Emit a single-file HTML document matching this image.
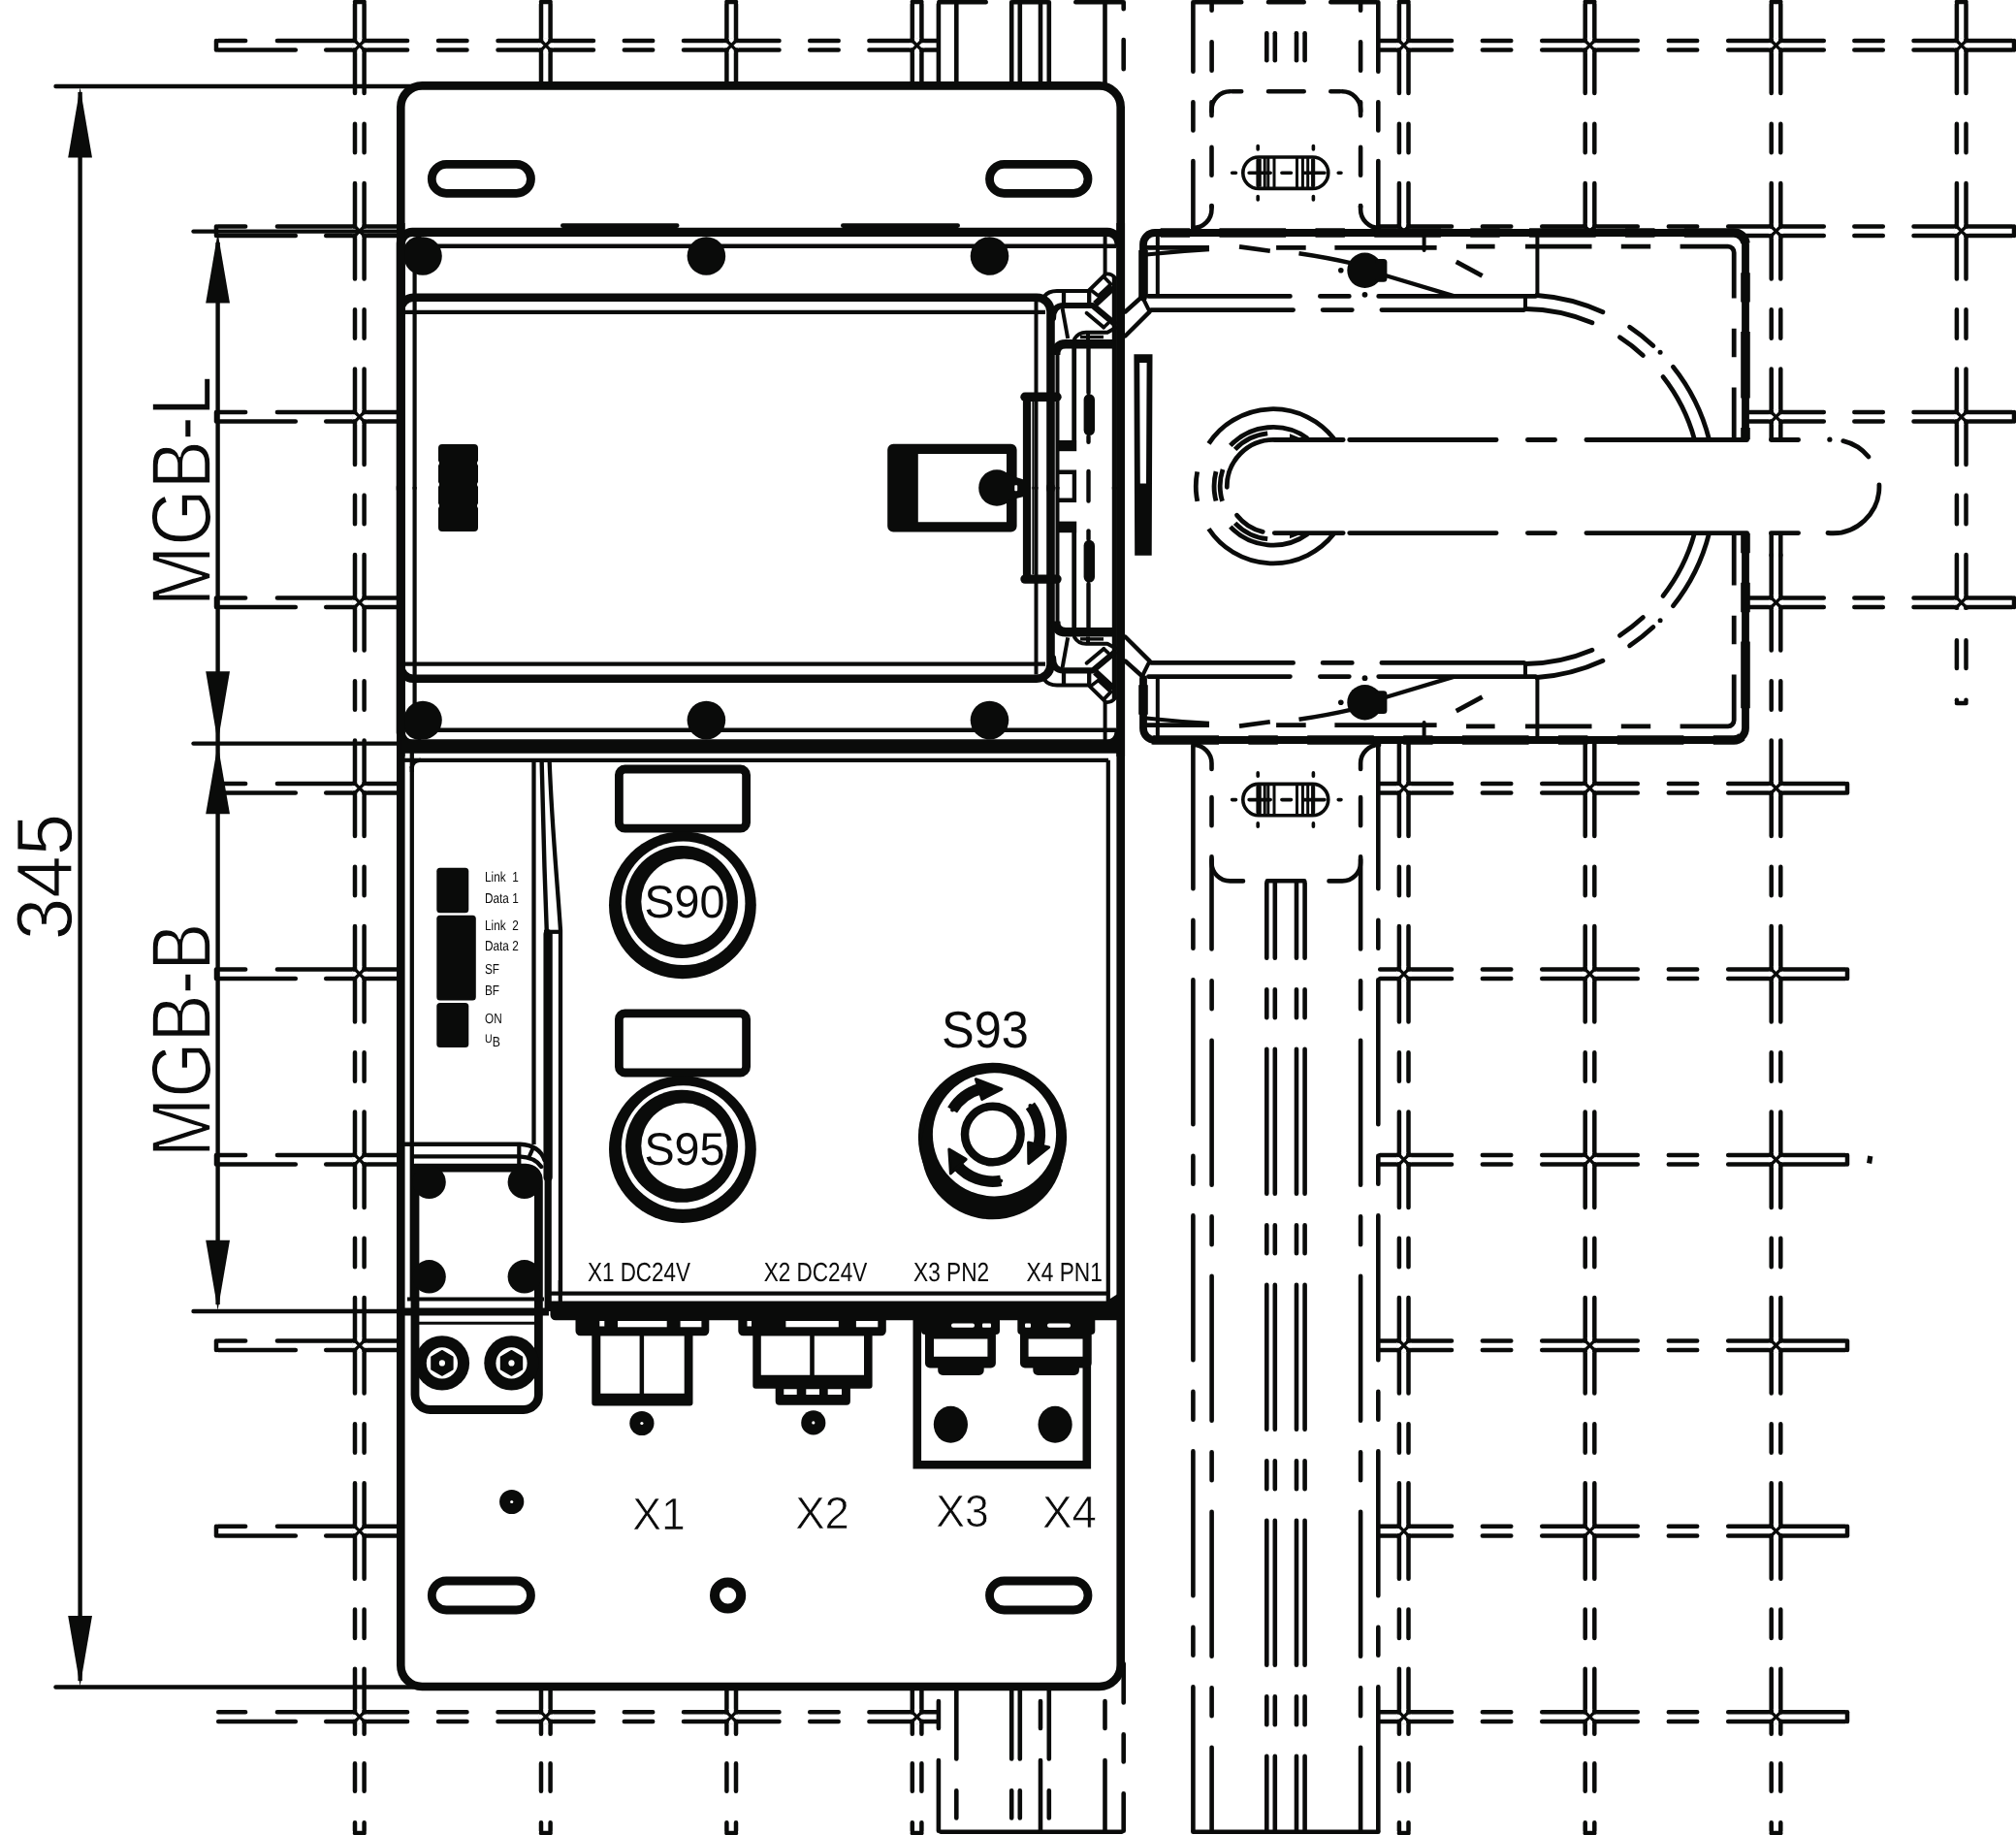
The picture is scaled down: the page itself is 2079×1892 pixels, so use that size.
<!DOCTYPE html>
<html><head><meta charset="utf-8"><title>MGB drawing</title>
<style>
html,body{margin:0;padding:0;background:#fff;}
body{width:2079px;height:1892px;overflow:hidden;font-family:"Liberation Sans",sans-serif;}
svg{display:block}
svg text{font-family:"Liberation Sans",sans-serif;text-rendering:geometricPrecision;filter:grayscale(1);}
</style></head><body>
<svg width="2079" height="1892" viewBox="0 0 2079 1892" stroke="#0a0b0a" fill="none">
<rect x="0" y="0" width="2079" height="1892" fill="#fff" stroke="none"/>
<path d="M225.2 42.0H253.1M285.9 42.0H420.1M452.0 42.0H481.5M513.5 42.0H612.0M643.8 42.0H673.2M705.0 42.0H803.5M835.2 42.0H864.7M896.4 42.0H965.8" stroke-width="4.5" fill="none" stroke-linecap="round" stroke-linejoin="round" />
<path d="M225.2 51.6H304.8M336.2 51.6H420.1M452.0 51.6H481.5M513.5 51.6H612.0M643.8 51.6H673.2M705.0 51.6H803.5M835.2 51.6H864.7M896.4 51.6H965.8" stroke-width="4.5" fill="none" stroke-linecap="round" stroke-linejoin="round" />
<line x1="223.0" y1="42.0" x2="223.0" y2="51.6" stroke-width="4.5" stroke-linecap="round" />
<path d="M225.2 233.5H253.1M285.9 233.5H409.8" stroke-width="4.5" fill="none" stroke-linecap="round" stroke-linejoin="round" />
<path d="M225.2 243.1H304.8M336.2 243.1H409.8" stroke-width="4.5" fill="none" stroke-linecap="round" stroke-linejoin="round" />
<line x1="223.0" y1="233.5" x2="223.0" y2="243.1" stroke-width="4.5" stroke-linecap="round" />
<path d="M225.2 425.0H253.1M285.9 425.0H409.8" stroke-width="4.5" fill="none" stroke-linecap="round" stroke-linejoin="round" />
<path d="M225.2 434.6H304.8M336.2 434.6H409.8" stroke-width="4.5" fill="none" stroke-linecap="round" stroke-linejoin="round" />
<line x1="223.0" y1="425.0" x2="223.0" y2="434.6" stroke-width="4.5" stroke-linecap="round" />
<path d="M225.2 616.4H253.1M285.9 616.4H409.8" stroke-width="4.5" fill="none" stroke-linecap="round" stroke-linejoin="round" />
<path d="M225.2 626.0H304.8M336.2 626.0H409.8" stroke-width="4.5" fill="none" stroke-linecap="round" stroke-linejoin="round" />
<line x1="223.0" y1="616.4" x2="223.0" y2="626.0" stroke-width="4.5" stroke-linecap="round" />
<path d="M225.2 807.9H253.1M285.9 807.9H409.8" stroke-width="4.5" fill="none" stroke-linecap="round" stroke-linejoin="round" />
<path d="M225.2 817.5H304.8M336.2 817.5H409.8" stroke-width="4.5" fill="none" stroke-linecap="round" stroke-linejoin="round" />
<line x1="223.0" y1="807.9" x2="223.0" y2="817.5" stroke-width="4.5" stroke-linecap="round" />
<path d="M225.2 999.4H253.1M285.9 999.4H409.8" stroke-width="4.5" fill="none" stroke-linecap="round" stroke-linejoin="round" />
<path d="M225.2 1009.0H304.8M336.2 1009.0H409.8" stroke-width="4.5" fill="none" stroke-linecap="round" stroke-linejoin="round" />
<line x1="223.0" y1="999.4" x2="223.0" y2="1009.0" stroke-width="4.5" stroke-linecap="round" />
<path d="M225.2 1190.9H253.1M285.9 1190.9H409.8" stroke-width="4.5" fill="none" stroke-linecap="round" stroke-linejoin="round" />
<path d="M225.2 1200.5H304.8M336.2 1200.5H409.8" stroke-width="4.5" fill="none" stroke-linecap="round" stroke-linejoin="round" />
<line x1="223.0" y1="1190.9" x2="223.0" y2="1200.5" stroke-width="4.5" stroke-linecap="round" />
<path d="M225.2 1382.4H253.1M285.9 1382.4H409.8" stroke-width="4.5" fill="none" stroke-linecap="round" stroke-linejoin="round" />
<path d="M225.2 1392.0H304.8M336.2 1392.0H409.8" stroke-width="4.5" fill="none" stroke-linecap="round" stroke-linejoin="round" />
<line x1="223.0" y1="1382.4" x2="223.0" y2="1392.0" stroke-width="4.5" stroke-linecap="round" />
<path d="M225.2 1573.8H253.1M285.9 1573.8H409.8" stroke-width="4.5" fill="none" stroke-linecap="round" stroke-linejoin="round" />
<path d="M225.2 1583.4H304.8M336.2 1583.4H409.8" stroke-width="4.5" fill="none" stroke-linecap="round" stroke-linejoin="round" />
<line x1="223.0" y1="1573.8" x2="223.0" y2="1583.4" stroke-width="4.5" stroke-linecap="round" />
<path d="M225.2 1765.3H253.1M285.9 1765.3H420.1M452.0 1765.3H481.5M513.5 1765.3H612.0M643.8 1765.3H673.2M705.0 1765.3H803.5M835.2 1765.3H864.7M896.4 1765.3H965.8" stroke-width="4.5" fill="none" stroke-linecap="round" stroke-linejoin="round" />
<path d="M225.2 1774.9H304.8M336.2 1774.9H420.1M452.0 1774.9H481.5M513.5 1774.9H612.0M643.8 1774.9H673.2M705.0 1774.9H803.5M835.2 1774.9H864.7M896.4 1774.9H965.8" stroke-width="4.5" fill="none" stroke-linecap="round" stroke-linejoin="round" />
<path d="M366.0 4.2V96.0M366.0 127.8V157.3M366.0 189.1V287.6M366.0 319.3V348.8M366.0 380.6V479.1M366.0 510.8V540.2M366.0 572.0V670.5M366.0 702.2V731.7M366.0 763.5V862.0M366.0 893.7V923.2M366.0 955.0V1053.5M366.0 1085.2V1114.7M366.0 1146.5V1245.0M366.0 1276.7V1306.2M366.0 1338.0V1436.5M366.0 1468.2V1497.7M366.0 1529.3V1627.8M366.0 1659.6V1689.1M366.0 1720.8V1787.8M366.0 1818.2V1846.8M366.0 1879.2V1887.8" stroke-width="4.5" fill="none" stroke-linecap="round" stroke-linejoin="round" />
<path d="M375.6 4.2V96.0M375.6 127.8V157.3M375.6 189.1V287.6M375.6 319.3V348.8M375.6 380.6V479.1M375.6 510.8V540.2M375.6 572.0V670.5M375.6 702.2V731.7M375.6 763.5V862.0M375.6 893.7V923.2M375.6 955.0V1053.5M375.6 1085.2V1114.7M375.6 1146.5V1245.0M375.6 1276.7V1306.2M375.6 1338.0V1436.5M375.6 1468.2V1497.7M375.6 1529.3V1627.8M375.6 1659.6V1689.1M375.6 1720.8V1787.8M375.6 1818.2V1846.8M375.6 1879.2V1887.8" stroke-width="4.5" fill="none" stroke-linecap="round" stroke-linejoin="round" />
<line x1="366.0" y1="2.0" x2="375.6" y2="2.0" stroke-width="4.5" stroke-linecap="round" />
<line x1="366.0" y1="1890.0" x2="375.6" y2="1890.0" stroke-width="4.5" stroke-linecap="round" />
<path d="M558.0 4.2V96.0M558.0 127.8V157.3M558.0 189.1V287.6M558.0 319.3V348.8M558.0 380.6V479.1M558.0 510.8V540.2M558.0 572.0V670.5M558.0 702.2V731.7M558.0 763.5V862.0M558.0 893.7V923.2M558.0 955.0V1053.5M558.0 1085.2V1114.7M558.0 1146.5V1245.0M558.0 1276.7V1306.2M558.0 1338.0V1436.5M558.0 1468.2V1497.7M558.0 1529.3V1627.8M558.0 1659.6V1689.1M558.0 1720.8V1787.8M558.0 1818.2V1846.8M558.0 1879.2V1887.8" stroke-width="4.5" fill="none" stroke-linecap="round" stroke-linejoin="round" />
<path d="M567.6 4.2V96.0M567.6 127.8V157.3M567.6 189.1V287.6M567.6 319.3V348.8M567.6 380.6V479.1M567.6 510.8V540.2M567.6 572.0V670.5M567.6 702.2V731.7M567.6 763.5V862.0M567.6 893.7V923.2M567.6 955.0V1053.5M567.6 1085.2V1114.7M567.6 1146.5V1245.0M567.6 1276.7V1306.2M567.6 1338.0V1436.5M567.6 1468.2V1497.7M567.6 1529.3V1627.8M567.6 1659.6V1689.1M567.6 1720.8V1787.8M567.6 1818.2V1846.8M567.6 1879.2V1887.8" stroke-width="4.5" fill="none" stroke-linecap="round" stroke-linejoin="round" />
<line x1="558.0" y1="2.0" x2="567.6" y2="2.0" stroke-width="4.5" stroke-linecap="round" />
<line x1="558.0" y1="1890.0" x2="567.6" y2="1890.0" stroke-width="4.5" stroke-linecap="round" />
<path d="M749.4 4.2V96.0M749.4 127.8V157.3M749.4 189.1V287.6M749.4 319.3V348.8M749.4 380.6V479.1M749.4 510.8V540.2M749.4 572.0V670.5M749.4 702.2V731.7M749.4 763.5V862.0M749.4 893.7V923.2M749.4 955.0V1053.5M749.4 1085.2V1114.7M749.4 1146.5V1245.0M749.4 1276.7V1306.2M749.4 1338.0V1436.5M749.4 1468.2V1497.7M749.4 1529.3V1627.8M749.4 1659.6V1689.1M749.4 1720.8V1787.8M749.4 1818.2V1846.8M749.4 1879.2V1887.8" stroke-width="4.5" fill="none" stroke-linecap="round" stroke-linejoin="round" />
<path d="M759.0 4.2V96.0M759.0 127.8V157.3M759.0 189.1V287.6M759.0 319.3V348.8M759.0 380.6V479.1M759.0 510.8V540.2M759.0 572.0V670.5M759.0 702.2V731.7M759.0 763.5V862.0M759.0 893.7V923.2M759.0 955.0V1053.5M759.0 1085.2V1114.7M759.0 1146.5V1245.0M759.0 1276.7V1306.2M759.0 1338.0V1436.5M759.0 1468.2V1497.7M759.0 1529.3V1627.8M759.0 1659.6V1689.1M759.0 1720.8V1787.8M759.0 1818.2V1846.8M759.0 1879.2V1887.8" stroke-width="4.5" fill="none" stroke-linecap="round" stroke-linejoin="round" />
<line x1="749.4" y1="2.0" x2="759.0" y2="2.0" stroke-width="4.5" stroke-linecap="round" />
<line x1="749.4" y1="1890.0" x2="759.0" y2="1890.0" stroke-width="4.5" stroke-linecap="round" />
<path d="M940.8 4.2V96.0M940.8 127.8V157.3M940.8 189.1V287.6M940.8 319.3V348.8M940.8 380.6V479.1M940.8 510.8V540.2M940.8 572.0V670.5M940.8 702.2V731.7M940.8 763.5V862.0M940.8 893.7V923.2M940.8 955.0V1053.5M940.8 1085.2V1114.7M940.8 1146.5V1245.0M940.8 1276.7V1306.2M940.8 1338.0V1436.5M940.8 1468.2V1497.7M940.8 1529.3V1627.8M940.8 1659.6V1689.1M940.8 1720.8V1787.8M940.8 1818.2V1846.8M940.8 1879.2V1887.8" stroke-width="4.5" fill="none" stroke-linecap="round" stroke-linejoin="round" />
<path d="M950.4 4.2V96.0M950.4 127.8V157.3M950.4 189.1V287.6M950.4 319.3V348.8M950.4 380.6V479.1M950.4 510.8V540.2M950.4 572.0V670.5M950.4 702.2V731.7M950.4 763.5V862.0M950.4 893.7V923.2M950.4 955.0V1053.5M950.4 1085.2V1114.7M950.4 1146.5V1245.0M950.4 1276.7V1306.2M950.4 1338.0V1436.5M950.4 1468.2V1497.7M950.4 1529.3V1627.8M950.4 1659.6V1689.1M950.4 1720.8V1787.8M950.4 1818.2V1846.8M950.4 1879.2V1887.8" stroke-width="4.5" fill="none" stroke-linecap="round" stroke-linejoin="round" />
<line x1="940.8" y1="2.0" x2="950.4" y2="2.0" stroke-width="4.5" stroke-linecap="round" />
<line x1="940.8" y1="1890.0" x2="950.4" y2="1890.0" stroke-width="4.5" stroke-linecap="round" />
<path d="M1423.2 42.0H1497.0M1528.8 42.0H1558.3M1590.2 42.0H1688.8M1720.8 42.0H1750.2M1782.2 42.0H1880.8M1912.3 42.0H1941.8M1973.5 42.0H2074.8" stroke-width="4.5" fill="none" stroke-linecap="round" stroke-linejoin="round" />
<path d="M1423.2 51.6H1497.0M1528.8 51.6H1558.3M1590.2 51.6H1688.8M1720.8 51.6H1750.2M1782.2 51.6H1880.8M1912.3 51.6H1941.8M1973.5 51.6H2074.8" stroke-width="4.5" fill="none" stroke-linecap="round" stroke-linejoin="round" />
<line x1="2077.0" y1="42.0" x2="2077.0" y2="51.6" stroke-width="4.5" stroke-linecap="round" />
<path d="M1423.2 233.5H1497.0M1528.8 233.5H1558.3M1590.2 233.5H1688.8M1720.8 233.5H1750.2M1782.2 233.5H1880.8M1912.3 233.5H1941.8M1973.5 233.5H2074.8" stroke-width="4.5" fill="none" stroke-linecap="round" stroke-linejoin="round" />
<path d="M1423.2 243.1H1497.0M1528.8 243.1H1558.3M1590.2 243.1H1688.8M1720.8 243.1H1750.2M1782.2 243.1H1880.8M1912.3 243.1H1941.8M1973.5 243.1H2074.8" stroke-width="4.5" fill="none" stroke-linecap="round" stroke-linejoin="round" />
<line x1="2077.0" y1="233.5" x2="2077.0" y2="243.1" stroke-width="4.5" stroke-linecap="round" />
<path d="M1423.2 425.0H1497.0M1528.8 425.0H1558.3M1590.2 425.0H1688.8M1720.8 425.0H1750.2M1782.2 425.0H1880.8M1912.3 425.0H1941.8M1973.5 425.0H2074.8" stroke-width="4.5" fill="none" stroke-linecap="round" stroke-linejoin="round" />
<path d="M1423.2 434.6H1497.0M1528.8 434.6H1558.3M1590.2 434.6H1688.8M1720.8 434.6H1750.2M1782.2 434.6H1880.8M1912.3 434.6H1941.8M1973.5 434.6H2074.8" stroke-width="4.5" fill="none" stroke-linecap="round" stroke-linejoin="round" />
<line x1="2077.0" y1="425.0" x2="2077.0" y2="434.6" stroke-width="4.5" stroke-linecap="round" />
<path d="M1423.2 616.4H1497.0M1528.8 616.4H1558.3M1590.2 616.4H1688.8M1720.8 616.4H1750.2M1782.2 616.4H1880.8M1912.3 616.4H1941.8M1973.5 616.4H2074.8" stroke-width="4.5" fill="none" stroke-linecap="round" stroke-linejoin="round" />
<path d="M1423.2 626.0H1497.0M1528.8 626.0H1558.3M1590.2 626.0H1688.8M1720.8 626.0H1750.2M1782.2 626.0H1880.8M1912.3 626.0H1941.8M1973.5 626.0H2074.8" stroke-width="4.5" fill="none" stroke-linecap="round" stroke-linejoin="round" />
<line x1="2077.0" y1="616.4" x2="2077.0" y2="626.0" stroke-width="4.5" stroke-linecap="round" />
<path d="M1423.2 807.9H1497.0M1528.8 807.9H1558.3M1590.2 807.9H1688.8M1720.8 807.9H1750.2M1782.2 807.9H1902.8" stroke-width="4.5" fill="none" stroke-linecap="round" stroke-linejoin="round" />
<path d="M1423.2 817.5H1497.0M1528.8 817.5H1558.3M1590.2 817.5H1688.8M1720.8 817.5H1750.2M1782.2 817.5H1902.8" stroke-width="4.5" fill="none" stroke-linecap="round" stroke-linejoin="round" />
<line x1="1905.0" y1="807.9" x2="1905.0" y2="817.5" stroke-width="4.5" stroke-linecap="round" />
<path d="M1423.2 999.4H1497.0M1528.8 999.4H1558.3M1590.2 999.4H1688.8M1720.8 999.4H1750.2M1782.2 999.4H1902.8" stroke-width="4.5" fill="none" stroke-linecap="round" stroke-linejoin="round" />
<path d="M1423.2 1009.0H1497.0M1528.8 1009.0H1558.3M1590.2 1009.0H1688.8M1720.8 1009.0H1750.2M1782.2 1009.0H1902.8" stroke-width="4.5" fill="none" stroke-linecap="round" stroke-linejoin="round" />
<line x1="1905.0" y1="999.4" x2="1905.0" y2="1009.0" stroke-width="4.5" stroke-linecap="round" />
<path d="M1423.2 1190.9H1497.0M1528.8 1190.9H1558.3M1590.2 1190.9H1688.8M1720.8 1190.9H1750.2M1782.2 1190.9H1902.8" stroke-width="4.5" fill="none" stroke-linecap="round" stroke-linejoin="round" />
<path d="M1423.2 1200.5H1497.0M1528.8 1200.5H1558.3M1590.2 1200.5H1688.8M1720.8 1200.5H1750.2M1782.2 1200.5H1902.8" stroke-width="4.5" fill="none" stroke-linecap="round" stroke-linejoin="round" />
<line x1="1905.0" y1="1190.9" x2="1905.0" y2="1200.5" stroke-width="4.5" stroke-linecap="round" />
<path d="M1423.2 1382.4H1497.0M1528.8 1382.4H1558.3M1590.2 1382.4H1688.8M1720.8 1382.4H1750.2M1782.2 1382.4H1902.8" stroke-width="4.5" fill="none" stroke-linecap="round" stroke-linejoin="round" />
<path d="M1423.2 1392.0H1497.0M1528.8 1392.0H1558.3M1590.2 1392.0H1688.8M1720.8 1392.0H1750.2M1782.2 1392.0H1902.8" stroke-width="4.5" fill="none" stroke-linecap="round" stroke-linejoin="round" />
<line x1="1905.0" y1="1382.4" x2="1905.0" y2="1392.0" stroke-width="4.5" stroke-linecap="round" />
<path d="M1423.2 1573.8H1497.0M1528.8 1573.8H1558.3M1590.2 1573.8H1688.8M1720.8 1573.8H1750.2M1782.2 1573.8H1902.8" stroke-width="4.5" fill="none" stroke-linecap="round" stroke-linejoin="round" />
<path d="M1423.2 1583.4H1497.0M1528.8 1583.4H1558.3M1590.2 1583.4H1688.8M1720.8 1583.4H1750.2M1782.2 1583.4H1902.8" stroke-width="4.5" fill="none" stroke-linecap="round" stroke-linejoin="round" />
<line x1="1905.0" y1="1573.8" x2="1905.0" y2="1583.4" stroke-width="4.5" stroke-linecap="round" />
<path d="M1423.2 1765.3H1497.0M1528.8 1765.3H1558.3M1590.2 1765.3H1688.8M1720.8 1765.3H1750.2M1782.2 1765.3H1902.8" stroke-width="4.5" fill="none" stroke-linecap="round" stroke-linejoin="round" />
<path d="M1423.2 1774.9H1497.0M1528.8 1774.9H1558.3M1590.2 1774.9H1688.8M1720.8 1774.9H1750.2M1782.2 1774.9H1902.8" stroke-width="4.5" fill="none" stroke-linecap="round" stroke-linejoin="round" />
<line x1="1905.0" y1="1765.3" x2="1905.0" y2="1774.9" stroke-width="4.5" stroke-linecap="round" />
<path d="M1442.9 4.2V96.0M1442.9 127.8V157.3M1442.9 189.1V287.6M1442.9 319.3V348.8M1442.9 380.6V479.1M1442.9 510.8V540.2M1442.9 572.0V670.5M1442.9 702.2V731.7M1442.9 763.5V862.0M1442.9 893.7V923.2M1442.9 955.0V1053.5M1442.9 1085.2V1114.7M1442.9 1146.5V1245.0M1442.9 1276.7V1306.2M1442.9 1338.0V1436.5M1442.9 1468.2V1497.7M1442.9 1529.3V1627.8M1442.9 1659.6V1689.1M1442.9 1720.8V1787.8M1442.9 1818.2V1846.8M1442.9 1879.2V1887.8" stroke-width="4.5" fill="none" stroke-linecap="round" stroke-linejoin="round" />
<path d="M1452.5 4.2V96.0M1452.5 127.8V157.3M1452.5 189.1V287.6M1452.5 319.3V348.8M1452.5 380.6V479.1M1452.5 510.8V540.2M1452.5 572.0V670.5M1452.5 702.2V731.7M1452.5 763.5V862.0M1452.5 893.7V923.2M1452.5 955.0V1053.5M1452.5 1085.2V1114.7M1452.5 1146.5V1245.0M1452.5 1276.7V1306.2M1452.5 1338.0V1436.5M1452.5 1468.2V1497.7M1452.5 1529.3V1627.8M1452.5 1659.6V1689.1M1452.5 1720.8V1787.8M1452.5 1818.2V1846.8M1452.5 1879.2V1887.8" stroke-width="4.5" fill="none" stroke-linecap="round" stroke-linejoin="round" />
<line x1="1442.9" y1="2.0" x2="1452.5" y2="2.0" stroke-width="4.5" stroke-linecap="round" />
<line x1="1442.9" y1="1890.0" x2="1452.5" y2="1890.0" stroke-width="4.5" stroke-linecap="round" />
<path d="M1634.7 4.2V96.0M1634.7 127.8V157.3M1634.7 189.1V287.6M1634.7 319.3V348.8M1634.7 380.6V479.1M1634.7 510.8V540.2M1634.7 572.0V670.5M1634.7 702.2V731.7M1634.7 763.5V862.0M1634.7 893.7V923.2M1634.7 955.0V1053.5M1634.7 1085.2V1114.7M1634.7 1146.5V1245.0M1634.7 1276.7V1306.2M1634.7 1338.0V1436.5M1634.7 1468.2V1497.7M1634.7 1529.3V1627.8M1634.7 1659.6V1689.1M1634.7 1720.8V1787.8M1634.7 1818.2V1846.8M1634.7 1879.2V1887.8" stroke-width="4.5" fill="none" stroke-linecap="round" stroke-linejoin="round" />
<path d="M1644.3 4.2V96.0M1644.3 127.8V157.3M1644.3 189.1V287.6M1644.3 319.3V348.8M1644.3 380.6V479.1M1644.3 510.8V540.2M1644.3 572.0V670.5M1644.3 702.2V731.7M1644.3 763.5V862.0M1644.3 893.7V923.2M1644.3 955.0V1053.5M1644.3 1085.2V1114.7M1644.3 1146.5V1245.0M1644.3 1276.7V1306.2M1644.3 1338.0V1436.5M1644.3 1468.2V1497.7M1644.3 1529.3V1627.8M1644.3 1659.6V1689.1M1644.3 1720.8V1787.8M1644.3 1818.2V1846.8M1644.3 1879.2V1887.8" stroke-width="4.5" fill="none" stroke-linecap="round" stroke-linejoin="round" />
<line x1="1634.7" y1="2.0" x2="1644.3" y2="2.0" stroke-width="4.5" stroke-linecap="round" />
<line x1="1634.7" y1="1890.0" x2="1644.3" y2="1890.0" stroke-width="4.5" stroke-linecap="round" />
<path d="M1826.7 4.2V96.0M1826.7 127.8V157.3M1826.7 189.1V287.6M1826.7 319.3V348.8M1826.7 380.6V479.1M1826.7 510.8V540.2M1826.7 572.0V670.5M1826.7 702.2V731.7M1826.7 763.5V862.0M1826.7 893.7V923.2M1826.7 955.0V1053.5M1826.7 1085.2V1114.7M1826.7 1146.5V1245.0M1826.7 1276.7V1306.2M1826.7 1338.0V1436.5M1826.7 1468.2V1497.7M1826.7 1529.3V1627.8M1826.7 1659.6V1689.1M1826.7 1720.8V1787.8M1826.7 1818.2V1846.8M1826.7 1879.2V1887.8" stroke-width="4.5" fill="none" stroke-linecap="round" stroke-linejoin="round" />
<path d="M1836.3 4.2V96.0M1836.3 127.8V157.3M1836.3 189.1V287.6M1836.3 319.3V348.8M1836.3 380.6V479.1M1836.3 510.8V540.2M1836.3 572.0V670.5M1836.3 702.2V731.7M1836.3 763.5V862.0M1836.3 893.7V923.2M1836.3 955.0V1053.5M1836.3 1085.2V1114.7M1836.3 1146.5V1245.0M1836.3 1276.7V1306.2M1836.3 1338.0V1436.5M1836.3 1468.2V1497.7M1836.3 1529.3V1627.8M1836.3 1659.6V1689.1M1836.3 1720.8V1787.8M1836.3 1818.2V1846.8M1836.3 1879.2V1887.8" stroke-width="4.5" fill="none" stroke-linecap="round" stroke-linejoin="round" />
<line x1="1826.7" y1="2.0" x2="1836.3" y2="2.0" stroke-width="4.5" stroke-linecap="round" />
<line x1="1826.7" y1="1890.0" x2="1836.3" y2="1890.0" stroke-width="4.5" stroke-linecap="round" />
<path d="M1826.7 550.2V572.8" stroke-width="4.5" fill="none" stroke-linecap="round" stroke-linejoin="round" />
<path d="M1836.3 550.2V572.8" stroke-width="4.5" fill="none" stroke-linecap="round" stroke-linejoin="round" />
<path d="M2017.9 4.2V96.0M2017.9 127.8V157.3M2017.9 189.1V287.6M2017.9 319.3V348.8M2017.9 380.6V479.1M2017.9 510.8V540.2M2017.9 572.0V626.8M2017.9 660.2V689.0M2017.9 721.8V722.8" stroke-width="4.5" fill="none" stroke-linecap="round" stroke-linejoin="round" />
<path d="M2027.5 4.2V96.0M2027.5 127.8V157.3M2027.5 189.1V287.6M2027.5 319.3V348.8M2027.5 380.6V479.1M2027.5 510.8V540.2M2027.5 572.0V626.8M2027.5 660.2V689.0M2027.5 721.8V722.8" stroke-width="4.5" fill="none" stroke-linecap="round" stroke-linejoin="round" />
<line x1="2017.9" y1="2.0" x2="2027.5" y2="2.0" stroke-width="4.5" stroke-linecap="round" />
<line x1="2017.9" y1="725.0" x2="2027.5" y2="725.0" stroke-width="4.5" stroke-linecap="round" />
<rect x="367.95" y="39.25" width="5.70" height="15.10" fill="#fff" stroke="none"/>
<rect x="363.25" y="43.95" width="15.10" height="5.70" fill="#fff" stroke="none"/>
<path d="M366.00 42.00L375.60 51.60M375.60 42.00L366.00 51.60" stroke-width="3.3" stroke-linecap="butt" fill="none"/>
<rect x="363.75" y="39.75" width="4.5" height="4.5" fill="#0a0b0a" stroke="none"/>
<rect x="373.35" y="39.75" width="4.5" height="4.5" fill="#0a0b0a" stroke="none"/>
<rect x="363.75" y="49.35" width="4.5" height="4.5" fill="#0a0b0a" stroke="none"/>
<rect x="373.35" y="49.35" width="4.5" height="4.5" fill="#0a0b0a" stroke="none"/>
<rect x="367.95" y="230.75" width="5.70" height="15.10" fill="#fff" stroke="none"/>
<rect x="363.25" y="235.45" width="15.10" height="5.70" fill="#fff" stroke="none"/>
<path d="M366.00 233.50L375.60 243.10M375.60 233.50L366.00 243.10" stroke-width="3.3" stroke-linecap="butt" fill="none"/>
<rect x="363.75" y="231.25" width="4.5" height="4.5" fill="#0a0b0a" stroke="none"/>
<rect x="373.35" y="231.25" width="4.5" height="4.5" fill="#0a0b0a" stroke="none"/>
<rect x="363.75" y="240.85" width="4.5" height="4.5" fill="#0a0b0a" stroke="none"/>
<rect x="373.35" y="240.85" width="4.5" height="4.5" fill="#0a0b0a" stroke="none"/>
<rect x="367.95" y="422.25" width="5.70" height="15.10" fill="#fff" stroke="none"/>
<rect x="363.25" y="426.95" width="15.10" height="5.70" fill="#fff" stroke="none"/>
<path d="M366.00 425.00L375.60 434.60M375.60 425.00L366.00 434.60" stroke-width="3.3" stroke-linecap="butt" fill="none"/>
<rect x="363.75" y="422.75" width="4.5" height="4.5" fill="#0a0b0a" stroke="none"/>
<rect x="373.35" y="422.75" width="4.5" height="4.5" fill="#0a0b0a" stroke="none"/>
<rect x="363.75" y="432.35" width="4.5" height="4.5" fill="#0a0b0a" stroke="none"/>
<rect x="373.35" y="432.35" width="4.5" height="4.5" fill="#0a0b0a" stroke="none"/>
<rect x="367.95" y="613.65" width="5.70" height="15.10" fill="#fff" stroke="none"/>
<rect x="363.25" y="618.35" width="15.10" height="5.70" fill="#fff" stroke="none"/>
<path d="M366.00 616.40L375.60 626.00M375.60 616.40L366.00 626.00" stroke-width="3.3" stroke-linecap="butt" fill="none"/>
<rect x="363.75" y="614.15" width="4.5" height="4.5" fill="#0a0b0a" stroke="none"/>
<rect x="373.35" y="614.15" width="4.5" height="4.5" fill="#0a0b0a" stroke="none"/>
<rect x="363.75" y="623.75" width="4.5" height="4.5" fill="#0a0b0a" stroke="none"/>
<rect x="373.35" y="623.75" width="4.5" height="4.5" fill="#0a0b0a" stroke="none"/>
<rect x="367.95" y="805.15" width="5.70" height="15.10" fill="#fff" stroke="none"/>
<rect x="363.25" y="809.85" width="15.10" height="5.70" fill="#fff" stroke="none"/>
<path d="M366.00 807.90L375.60 817.50M375.60 807.90L366.00 817.50" stroke-width="3.3" stroke-linecap="butt" fill="none"/>
<rect x="363.75" y="805.65" width="4.5" height="4.5" fill="#0a0b0a" stroke="none"/>
<rect x="373.35" y="805.65" width="4.5" height="4.5" fill="#0a0b0a" stroke="none"/>
<rect x="363.75" y="815.25" width="4.5" height="4.5" fill="#0a0b0a" stroke="none"/>
<rect x="373.35" y="815.25" width="4.5" height="4.5" fill="#0a0b0a" stroke="none"/>
<rect x="367.95" y="996.65" width="5.70" height="15.10" fill="#fff" stroke="none"/>
<rect x="363.25" y="1001.35" width="15.10" height="5.70" fill="#fff" stroke="none"/>
<path d="M366.00 999.40L375.60 1009.00M375.60 999.40L366.00 1009.00" stroke-width="3.3" stroke-linecap="butt" fill="none"/>
<rect x="363.75" y="997.15" width="4.5" height="4.5" fill="#0a0b0a" stroke="none"/>
<rect x="373.35" y="997.15" width="4.5" height="4.5" fill="#0a0b0a" stroke="none"/>
<rect x="363.75" y="1006.75" width="4.5" height="4.5" fill="#0a0b0a" stroke="none"/>
<rect x="373.35" y="1006.75" width="4.5" height="4.5" fill="#0a0b0a" stroke="none"/>
<rect x="367.95" y="1188.15" width="5.70" height="15.10" fill="#fff" stroke="none"/>
<rect x="363.25" y="1192.85" width="15.10" height="5.70" fill="#fff" stroke="none"/>
<path d="M366.00 1190.90L375.60 1200.50M375.60 1190.90L366.00 1200.50" stroke-width="3.3" stroke-linecap="butt" fill="none"/>
<rect x="363.75" y="1188.65" width="4.5" height="4.5" fill="#0a0b0a" stroke="none"/>
<rect x="373.35" y="1188.65" width="4.5" height="4.5" fill="#0a0b0a" stroke="none"/>
<rect x="363.75" y="1198.25" width="4.5" height="4.5" fill="#0a0b0a" stroke="none"/>
<rect x="373.35" y="1198.25" width="4.5" height="4.5" fill="#0a0b0a" stroke="none"/>
<rect x="367.95" y="1379.65" width="5.70" height="15.10" fill="#fff" stroke="none"/>
<rect x="363.25" y="1384.35" width="15.10" height="5.70" fill="#fff" stroke="none"/>
<path d="M366.00 1382.40L375.60 1392.00M375.60 1382.40L366.00 1392.00" stroke-width="3.3" stroke-linecap="butt" fill="none"/>
<rect x="363.75" y="1380.15" width="4.5" height="4.5" fill="#0a0b0a" stroke="none"/>
<rect x="373.35" y="1380.15" width="4.5" height="4.5" fill="#0a0b0a" stroke="none"/>
<rect x="363.75" y="1389.75" width="4.5" height="4.5" fill="#0a0b0a" stroke="none"/>
<rect x="373.35" y="1389.75" width="4.5" height="4.5" fill="#0a0b0a" stroke="none"/>
<rect x="367.95" y="1571.05" width="5.70" height="15.10" fill="#fff" stroke="none"/>
<rect x="363.25" y="1575.75" width="15.10" height="5.70" fill="#fff" stroke="none"/>
<path d="M366.00 1573.80L375.60 1583.40M375.60 1573.80L366.00 1583.40" stroke-width="3.3" stroke-linecap="butt" fill="none"/>
<rect x="363.75" y="1571.55" width="4.5" height="4.5" fill="#0a0b0a" stroke="none"/>
<rect x="373.35" y="1571.55" width="4.5" height="4.5" fill="#0a0b0a" stroke="none"/>
<rect x="363.75" y="1581.15" width="4.5" height="4.5" fill="#0a0b0a" stroke="none"/>
<rect x="373.35" y="1581.15" width="4.5" height="4.5" fill="#0a0b0a" stroke="none"/>
<rect x="367.95" y="1762.55" width="5.70" height="15.10" fill="#fff" stroke="none"/>
<rect x="363.25" y="1767.25" width="15.10" height="5.70" fill="#fff" stroke="none"/>
<path d="M366.00 1765.30L375.60 1774.90M375.60 1765.30L366.00 1774.90" stroke-width="3.3" stroke-linecap="butt" fill="none"/>
<rect x="363.75" y="1763.05" width="4.5" height="4.5" fill="#0a0b0a" stroke="none"/>
<rect x="373.35" y="1763.05" width="4.5" height="4.5" fill="#0a0b0a" stroke="none"/>
<rect x="363.75" y="1772.65" width="4.5" height="4.5" fill="#0a0b0a" stroke="none"/>
<rect x="373.35" y="1772.65" width="4.5" height="4.5" fill="#0a0b0a" stroke="none"/>
<rect x="559.95" y="39.25" width="5.70" height="15.10" fill="#fff" stroke="none"/>
<rect x="555.25" y="43.95" width="15.10" height="5.70" fill="#fff" stroke="none"/>
<path d="M558.00 42.00L567.60 51.60M567.60 42.00L558.00 51.60" stroke-width="3.3" stroke-linecap="butt" fill="none"/>
<rect x="555.75" y="39.75" width="4.5" height="4.5" fill="#0a0b0a" stroke="none"/>
<rect x="565.35" y="39.75" width="4.5" height="4.5" fill="#0a0b0a" stroke="none"/>
<rect x="555.75" y="49.35" width="4.5" height="4.5" fill="#0a0b0a" stroke="none"/>
<rect x="565.35" y="49.35" width="4.5" height="4.5" fill="#0a0b0a" stroke="none"/>
<rect x="559.95" y="1762.55" width="5.70" height="15.10" fill="#fff" stroke="none"/>
<rect x="555.25" y="1767.25" width="15.10" height="5.70" fill="#fff" stroke="none"/>
<path d="M558.00 1765.30L567.60 1774.90M567.60 1765.30L558.00 1774.90" stroke-width="3.3" stroke-linecap="butt" fill="none"/>
<rect x="555.75" y="1763.05" width="4.5" height="4.5" fill="#0a0b0a" stroke="none"/>
<rect x="565.35" y="1763.05" width="4.5" height="4.5" fill="#0a0b0a" stroke="none"/>
<rect x="555.75" y="1772.65" width="4.5" height="4.5" fill="#0a0b0a" stroke="none"/>
<rect x="565.35" y="1772.65" width="4.5" height="4.5" fill="#0a0b0a" stroke="none"/>
<rect x="751.35" y="39.25" width="5.70" height="15.10" fill="#fff" stroke="none"/>
<rect x="746.65" y="43.95" width="15.10" height="5.70" fill="#fff" stroke="none"/>
<path d="M749.40 42.00L759.00 51.60M759.00 42.00L749.40 51.60" stroke-width="3.3" stroke-linecap="butt" fill="none"/>
<rect x="747.15" y="39.75" width="4.5" height="4.5" fill="#0a0b0a" stroke="none"/>
<rect x="756.75" y="39.75" width="4.5" height="4.5" fill="#0a0b0a" stroke="none"/>
<rect x="747.15" y="49.35" width="4.5" height="4.5" fill="#0a0b0a" stroke="none"/>
<rect x="756.75" y="49.35" width="4.5" height="4.5" fill="#0a0b0a" stroke="none"/>
<rect x="751.35" y="1762.55" width="5.70" height="15.10" fill="#fff" stroke="none"/>
<rect x="746.65" y="1767.25" width="15.10" height="5.70" fill="#fff" stroke="none"/>
<path d="M749.40 1765.30L759.00 1774.90M759.00 1765.30L749.40 1774.90" stroke-width="3.3" stroke-linecap="butt" fill="none"/>
<rect x="747.15" y="1763.05" width="4.5" height="4.5" fill="#0a0b0a" stroke="none"/>
<rect x="756.75" y="1763.05" width="4.5" height="4.5" fill="#0a0b0a" stroke="none"/>
<rect x="747.15" y="1772.65" width="4.5" height="4.5" fill="#0a0b0a" stroke="none"/>
<rect x="756.75" y="1772.65" width="4.5" height="4.5" fill="#0a0b0a" stroke="none"/>
<rect x="942.75" y="39.25" width="5.70" height="15.10" fill="#fff" stroke="none"/>
<rect x="938.05" y="43.95" width="15.10" height="5.70" fill="#fff" stroke="none"/>
<path d="M940.80 42.00L950.40 51.60M950.40 42.00L940.80 51.60" stroke-width="3.3" stroke-linecap="butt" fill="none"/>
<rect x="938.55" y="39.75" width="4.5" height="4.5" fill="#0a0b0a" stroke="none"/>
<rect x="948.15" y="39.75" width="4.5" height="4.5" fill="#0a0b0a" stroke="none"/>
<rect x="938.55" y="49.35" width="4.5" height="4.5" fill="#0a0b0a" stroke="none"/>
<rect x="948.15" y="49.35" width="4.5" height="4.5" fill="#0a0b0a" stroke="none"/>
<rect x="942.75" y="1762.55" width="5.70" height="15.10" fill="#fff" stroke="none"/>
<rect x="938.05" y="1767.25" width="15.10" height="5.70" fill="#fff" stroke="none"/>
<path d="M940.80 1765.30L950.40 1774.90M950.40 1765.30L940.80 1774.90" stroke-width="3.3" stroke-linecap="butt" fill="none"/>
<rect x="938.55" y="1763.05" width="4.5" height="4.5" fill="#0a0b0a" stroke="none"/>
<rect x="948.15" y="1763.05" width="4.5" height="4.5" fill="#0a0b0a" stroke="none"/>
<rect x="938.55" y="1772.65" width="4.5" height="4.5" fill="#0a0b0a" stroke="none"/>
<rect x="948.15" y="1772.65" width="4.5" height="4.5" fill="#0a0b0a" stroke="none"/>
<rect x="1444.85" y="39.25" width="5.70" height="15.10" fill="#fff" stroke="none"/>
<rect x="1440.15" y="43.95" width="15.10" height="5.70" fill="#fff" stroke="none"/>
<path d="M1442.90 42.00L1452.50 51.60M1452.50 42.00L1442.90 51.60" stroke-width="3.3" stroke-linecap="butt" fill="none"/>
<rect x="1440.65" y="39.75" width="4.5" height="4.5" fill="#0a0b0a" stroke="none"/>
<rect x="1450.25" y="39.75" width="4.5" height="4.5" fill="#0a0b0a" stroke="none"/>
<rect x="1440.65" y="49.35" width="4.5" height="4.5" fill="#0a0b0a" stroke="none"/>
<rect x="1450.25" y="49.35" width="4.5" height="4.5" fill="#0a0b0a" stroke="none"/>
<rect x="1444.85" y="230.75" width="5.70" height="15.10" fill="#fff" stroke="none"/>
<rect x="1440.15" y="235.45" width="15.10" height="5.70" fill="#fff" stroke="none"/>
<path d="M1442.90 233.50L1452.50 243.10M1452.50 233.50L1442.90 243.10" stroke-width="3.3" stroke-linecap="butt" fill="none"/>
<rect x="1440.65" y="231.25" width="4.5" height="4.5" fill="#0a0b0a" stroke="none"/>
<rect x="1450.25" y="231.25" width="4.5" height="4.5" fill="#0a0b0a" stroke="none"/>
<rect x="1440.65" y="240.85" width="4.5" height="4.5" fill="#0a0b0a" stroke="none"/>
<rect x="1450.25" y="240.85" width="4.5" height="4.5" fill="#0a0b0a" stroke="none"/>
<rect x="1444.85" y="422.25" width="5.70" height="15.10" fill="#fff" stroke="none"/>
<rect x="1440.15" y="426.95" width="15.10" height="5.70" fill="#fff" stroke="none"/>
<path d="M1442.90 425.00L1452.50 434.60M1452.50 425.00L1442.90 434.60" stroke-width="3.3" stroke-linecap="butt" fill="none"/>
<rect x="1440.65" y="422.75" width="4.5" height="4.5" fill="#0a0b0a" stroke="none"/>
<rect x="1450.25" y="422.75" width="4.5" height="4.5" fill="#0a0b0a" stroke="none"/>
<rect x="1440.65" y="432.35" width="4.5" height="4.5" fill="#0a0b0a" stroke="none"/>
<rect x="1450.25" y="432.35" width="4.5" height="4.5" fill="#0a0b0a" stroke="none"/>
<rect x="1444.85" y="613.65" width="5.70" height="15.10" fill="#fff" stroke="none"/>
<rect x="1440.15" y="618.35" width="15.10" height="5.70" fill="#fff" stroke="none"/>
<path d="M1442.90 616.40L1452.50 626.00M1452.50 616.40L1442.90 626.00" stroke-width="3.3" stroke-linecap="butt" fill="none"/>
<rect x="1440.65" y="614.15" width="4.5" height="4.5" fill="#0a0b0a" stroke="none"/>
<rect x="1450.25" y="614.15" width="4.5" height="4.5" fill="#0a0b0a" stroke="none"/>
<rect x="1440.65" y="623.75" width="4.5" height="4.5" fill="#0a0b0a" stroke="none"/>
<rect x="1450.25" y="623.75" width="4.5" height="4.5" fill="#0a0b0a" stroke="none"/>
<rect x="1444.85" y="805.15" width="5.70" height="15.10" fill="#fff" stroke="none"/>
<rect x="1440.15" y="809.85" width="15.10" height="5.70" fill="#fff" stroke="none"/>
<path d="M1442.90 807.90L1452.50 817.50M1452.50 807.90L1442.90 817.50" stroke-width="3.3" stroke-linecap="butt" fill="none"/>
<rect x="1440.65" y="805.65" width="4.5" height="4.5" fill="#0a0b0a" stroke="none"/>
<rect x="1450.25" y="805.65" width="4.5" height="4.5" fill="#0a0b0a" stroke="none"/>
<rect x="1440.65" y="815.25" width="4.5" height="4.5" fill="#0a0b0a" stroke="none"/>
<rect x="1450.25" y="815.25" width="4.5" height="4.5" fill="#0a0b0a" stroke="none"/>
<rect x="1444.85" y="996.65" width="5.70" height="15.10" fill="#fff" stroke="none"/>
<rect x="1440.15" y="1001.35" width="15.10" height="5.70" fill="#fff" stroke="none"/>
<path d="M1442.90 999.40L1452.50 1009.00M1452.50 999.40L1442.90 1009.00" stroke-width="3.3" stroke-linecap="butt" fill="none"/>
<rect x="1440.65" y="997.15" width="4.5" height="4.5" fill="#0a0b0a" stroke="none"/>
<rect x="1450.25" y="997.15" width="4.5" height="4.5" fill="#0a0b0a" stroke="none"/>
<rect x="1440.65" y="1006.75" width="4.5" height="4.5" fill="#0a0b0a" stroke="none"/>
<rect x="1450.25" y="1006.75" width="4.5" height="4.5" fill="#0a0b0a" stroke="none"/>
<rect x="1444.85" y="1188.15" width="5.70" height="15.10" fill="#fff" stroke="none"/>
<rect x="1440.15" y="1192.85" width="15.10" height="5.70" fill="#fff" stroke="none"/>
<path d="M1442.90 1190.90L1452.50 1200.50M1452.50 1190.90L1442.90 1200.50" stroke-width="3.3" stroke-linecap="butt" fill="none"/>
<rect x="1440.65" y="1188.65" width="4.5" height="4.5" fill="#0a0b0a" stroke="none"/>
<rect x="1450.25" y="1188.65" width="4.5" height="4.5" fill="#0a0b0a" stroke="none"/>
<rect x="1440.65" y="1198.25" width="4.5" height="4.5" fill="#0a0b0a" stroke="none"/>
<rect x="1450.25" y="1198.25" width="4.5" height="4.5" fill="#0a0b0a" stroke="none"/>
<rect x="1444.85" y="1379.65" width="5.70" height="15.10" fill="#fff" stroke="none"/>
<rect x="1440.15" y="1384.35" width="15.10" height="5.70" fill="#fff" stroke="none"/>
<path d="M1442.90 1382.40L1452.50 1392.00M1452.50 1382.40L1442.90 1392.00" stroke-width="3.3" stroke-linecap="butt" fill="none"/>
<rect x="1440.65" y="1380.15" width="4.5" height="4.5" fill="#0a0b0a" stroke="none"/>
<rect x="1450.25" y="1380.15" width="4.5" height="4.5" fill="#0a0b0a" stroke="none"/>
<rect x="1440.65" y="1389.75" width="4.5" height="4.5" fill="#0a0b0a" stroke="none"/>
<rect x="1450.25" y="1389.75" width="4.5" height="4.5" fill="#0a0b0a" stroke="none"/>
<rect x="1444.85" y="1571.05" width="5.70" height="15.10" fill="#fff" stroke="none"/>
<rect x="1440.15" y="1575.75" width="15.10" height="5.70" fill="#fff" stroke="none"/>
<path d="M1442.90 1573.80L1452.50 1583.40M1452.50 1573.80L1442.90 1583.40" stroke-width="3.3" stroke-linecap="butt" fill="none"/>
<rect x="1440.65" y="1571.55" width="4.5" height="4.5" fill="#0a0b0a" stroke="none"/>
<rect x="1450.25" y="1571.55" width="4.5" height="4.5" fill="#0a0b0a" stroke="none"/>
<rect x="1440.65" y="1581.15" width="4.5" height="4.5" fill="#0a0b0a" stroke="none"/>
<rect x="1450.25" y="1581.15" width="4.5" height="4.5" fill="#0a0b0a" stroke="none"/>
<rect x="1444.85" y="1762.55" width="5.70" height="15.10" fill="#fff" stroke="none"/>
<rect x="1440.15" y="1767.25" width="15.10" height="5.70" fill="#fff" stroke="none"/>
<path d="M1442.90 1765.30L1452.50 1774.90M1452.50 1765.30L1442.90 1774.90" stroke-width="3.3" stroke-linecap="butt" fill="none"/>
<rect x="1440.65" y="1763.05" width="4.5" height="4.5" fill="#0a0b0a" stroke="none"/>
<rect x="1450.25" y="1763.05" width="4.5" height="4.5" fill="#0a0b0a" stroke="none"/>
<rect x="1440.65" y="1772.65" width="4.5" height="4.5" fill="#0a0b0a" stroke="none"/>
<rect x="1450.25" y="1772.65" width="4.5" height="4.5" fill="#0a0b0a" stroke="none"/>
<rect x="1636.65" y="39.25" width="5.70" height="15.10" fill="#fff" stroke="none"/>
<rect x="1631.95" y="43.95" width="15.10" height="5.70" fill="#fff" stroke="none"/>
<path d="M1634.70 42.00L1644.30 51.60M1644.30 42.00L1634.70 51.60" stroke-width="3.3" stroke-linecap="butt" fill="none"/>
<rect x="1632.45" y="39.75" width="4.5" height="4.5" fill="#0a0b0a" stroke="none"/>
<rect x="1642.05" y="39.75" width="4.5" height="4.5" fill="#0a0b0a" stroke="none"/>
<rect x="1632.45" y="49.35" width="4.5" height="4.5" fill="#0a0b0a" stroke="none"/>
<rect x="1642.05" y="49.35" width="4.5" height="4.5" fill="#0a0b0a" stroke="none"/>
<rect x="1636.65" y="230.75" width="5.70" height="15.10" fill="#fff" stroke="none"/>
<rect x="1631.95" y="235.45" width="15.10" height="5.70" fill="#fff" stroke="none"/>
<path d="M1634.70 233.50L1644.30 243.10M1644.30 233.50L1634.70 243.10" stroke-width="3.3" stroke-linecap="butt" fill="none"/>
<rect x="1632.45" y="231.25" width="4.5" height="4.5" fill="#0a0b0a" stroke="none"/>
<rect x="1642.05" y="231.25" width="4.5" height="4.5" fill="#0a0b0a" stroke="none"/>
<rect x="1632.45" y="240.85" width="4.5" height="4.5" fill="#0a0b0a" stroke="none"/>
<rect x="1642.05" y="240.85" width="4.5" height="4.5" fill="#0a0b0a" stroke="none"/>
<rect x="1636.65" y="422.25" width="5.70" height="15.10" fill="#fff" stroke="none"/>
<rect x="1631.95" y="426.95" width="15.10" height="5.70" fill="#fff" stroke="none"/>
<path d="M1634.70 425.00L1644.30 434.60M1644.30 425.00L1634.70 434.60" stroke-width="3.3" stroke-linecap="butt" fill="none"/>
<rect x="1632.45" y="422.75" width="4.5" height="4.5" fill="#0a0b0a" stroke="none"/>
<rect x="1642.05" y="422.75" width="4.5" height="4.5" fill="#0a0b0a" stroke="none"/>
<rect x="1632.45" y="432.35" width="4.5" height="4.5" fill="#0a0b0a" stroke="none"/>
<rect x="1642.05" y="432.35" width="4.5" height="4.5" fill="#0a0b0a" stroke="none"/>
<rect x="1636.65" y="613.65" width="5.70" height="15.10" fill="#fff" stroke="none"/>
<rect x="1631.95" y="618.35" width="15.10" height="5.70" fill="#fff" stroke="none"/>
<path d="M1634.70 616.40L1644.30 626.00M1644.30 616.40L1634.70 626.00" stroke-width="3.3" stroke-linecap="butt" fill="none"/>
<rect x="1632.45" y="614.15" width="4.5" height="4.5" fill="#0a0b0a" stroke="none"/>
<rect x="1642.05" y="614.15" width="4.5" height="4.5" fill="#0a0b0a" stroke="none"/>
<rect x="1632.45" y="623.75" width="4.5" height="4.5" fill="#0a0b0a" stroke="none"/>
<rect x="1642.05" y="623.75" width="4.5" height="4.5" fill="#0a0b0a" stroke="none"/>
<rect x="1636.65" y="805.15" width="5.70" height="15.10" fill="#fff" stroke="none"/>
<rect x="1631.95" y="809.85" width="15.10" height="5.70" fill="#fff" stroke="none"/>
<path d="M1634.70 807.90L1644.30 817.50M1644.30 807.90L1634.70 817.50" stroke-width="3.3" stroke-linecap="butt" fill="none"/>
<rect x="1632.45" y="805.65" width="4.5" height="4.5" fill="#0a0b0a" stroke="none"/>
<rect x="1642.05" y="805.65" width="4.5" height="4.5" fill="#0a0b0a" stroke="none"/>
<rect x="1632.45" y="815.25" width="4.5" height="4.5" fill="#0a0b0a" stroke="none"/>
<rect x="1642.05" y="815.25" width="4.5" height="4.5" fill="#0a0b0a" stroke="none"/>
<rect x="1636.65" y="996.65" width="5.70" height="15.10" fill="#fff" stroke="none"/>
<rect x="1631.95" y="1001.35" width="15.10" height="5.70" fill="#fff" stroke="none"/>
<path d="M1634.70 999.40L1644.30 1009.00M1644.30 999.40L1634.70 1009.00" stroke-width="3.3" stroke-linecap="butt" fill="none"/>
<rect x="1632.45" y="997.15" width="4.5" height="4.5" fill="#0a0b0a" stroke="none"/>
<rect x="1642.05" y="997.15" width="4.5" height="4.5" fill="#0a0b0a" stroke="none"/>
<rect x="1632.45" y="1006.75" width="4.5" height="4.5" fill="#0a0b0a" stroke="none"/>
<rect x="1642.05" y="1006.75" width="4.5" height="4.5" fill="#0a0b0a" stroke="none"/>
<rect x="1636.65" y="1188.15" width="5.70" height="15.10" fill="#fff" stroke="none"/>
<rect x="1631.95" y="1192.85" width="15.10" height="5.70" fill="#fff" stroke="none"/>
<path d="M1634.70 1190.90L1644.30 1200.50M1644.30 1190.90L1634.70 1200.50" stroke-width="3.3" stroke-linecap="butt" fill="none"/>
<rect x="1632.45" y="1188.65" width="4.5" height="4.5" fill="#0a0b0a" stroke="none"/>
<rect x="1642.05" y="1188.65" width="4.5" height="4.5" fill="#0a0b0a" stroke="none"/>
<rect x="1632.45" y="1198.25" width="4.5" height="4.5" fill="#0a0b0a" stroke="none"/>
<rect x="1642.05" y="1198.25" width="4.5" height="4.5" fill="#0a0b0a" stroke="none"/>
<rect x="1636.65" y="1379.65" width="5.70" height="15.10" fill="#fff" stroke="none"/>
<rect x="1631.95" y="1384.35" width="15.10" height="5.70" fill="#fff" stroke="none"/>
<path d="M1634.70 1382.40L1644.30 1392.00M1644.30 1382.40L1634.70 1392.00" stroke-width="3.3" stroke-linecap="butt" fill="none"/>
<rect x="1632.45" y="1380.15" width="4.5" height="4.5" fill="#0a0b0a" stroke="none"/>
<rect x="1642.05" y="1380.15" width="4.5" height="4.5" fill="#0a0b0a" stroke="none"/>
<rect x="1632.45" y="1389.75" width="4.5" height="4.5" fill="#0a0b0a" stroke="none"/>
<rect x="1642.05" y="1389.75" width="4.5" height="4.5" fill="#0a0b0a" stroke="none"/>
<rect x="1636.65" y="1571.05" width="5.70" height="15.10" fill="#fff" stroke="none"/>
<rect x="1631.95" y="1575.75" width="15.10" height="5.70" fill="#fff" stroke="none"/>
<path d="M1634.70 1573.80L1644.30 1583.40M1644.30 1573.80L1634.70 1583.40" stroke-width="3.3" stroke-linecap="butt" fill="none"/>
<rect x="1632.45" y="1571.55" width="4.5" height="4.5" fill="#0a0b0a" stroke="none"/>
<rect x="1642.05" y="1571.55" width="4.5" height="4.5" fill="#0a0b0a" stroke="none"/>
<rect x="1632.45" y="1581.15" width="4.5" height="4.5" fill="#0a0b0a" stroke="none"/>
<rect x="1642.05" y="1581.15" width="4.5" height="4.5" fill="#0a0b0a" stroke="none"/>
<rect x="1636.65" y="1762.55" width="5.70" height="15.10" fill="#fff" stroke="none"/>
<rect x="1631.95" y="1767.25" width="15.10" height="5.70" fill="#fff" stroke="none"/>
<path d="M1634.70 1765.30L1644.30 1774.90M1644.30 1765.30L1634.70 1774.90" stroke-width="3.3" stroke-linecap="butt" fill="none"/>
<rect x="1632.45" y="1763.05" width="4.5" height="4.5" fill="#0a0b0a" stroke="none"/>
<rect x="1642.05" y="1763.05" width="4.5" height="4.5" fill="#0a0b0a" stroke="none"/>
<rect x="1632.45" y="1772.65" width="4.5" height="4.5" fill="#0a0b0a" stroke="none"/>
<rect x="1642.05" y="1772.65" width="4.5" height="4.5" fill="#0a0b0a" stroke="none"/>
<rect x="1828.65" y="39.25" width="5.70" height="15.10" fill="#fff" stroke="none"/>
<rect x="1823.95" y="43.95" width="15.10" height="5.70" fill="#fff" stroke="none"/>
<path d="M1826.70 42.00L1836.30 51.60M1836.30 42.00L1826.70 51.60" stroke-width="3.3" stroke-linecap="butt" fill="none"/>
<rect x="1824.45" y="39.75" width="4.5" height="4.5" fill="#0a0b0a" stroke="none"/>
<rect x="1834.05" y="39.75" width="4.5" height="4.5" fill="#0a0b0a" stroke="none"/>
<rect x="1824.45" y="49.35" width="4.5" height="4.5" fill="#0a0b0a" stroke="none"/>
<rect x="1834.05" y="49.35" width="4.5" height="4.5" fill="#0a0b0a" stroke="none"/>
<rect x="1828.65" y="230.75" width="5.70" height="15.10" fill="#fff" stroke="none"/>
<rect x="1823.95" y="235.45" width="15.10" height="5.70" fill="#fff" stroke="none"/>
<path d="M1826.70 233.50L1836.30 243.10M1836.30 233.50L1826.70 243.10" stroke-width="3.3" stroke-linecap="butt" fill="none"/>
<rect x="1824.45" y="231.25" width="4.5" height="4.5" fill="#0a0b0a" stroke="none"/>
<rect x="1834.05" y="231.25" width="4.5" height="4.5" fill="#0a0b0a" stroke="none"/>
<rect x="1824.45" y="240.85" width="4.5" height="4.5" fill="#0a0b0a" stroke="none"/>
<rect x="1834.05" y="240.85" width="4.5" height="4.5" fill="#0a0b0a" stroke="none"/>
<rect x="1828.65" y="422.25" width="5.70" height="15.10" fill="#fff" stroke="none"/>
<rect x="1823.95" y="426.95" width="15.10" height="5.70" fill="#fff" stroke="none"/>
<path d="M1826.70 425.00L1836.30 434.60M1836.30 425.00L1826.70 434.60" stroke-width="3.3" stroke-linecap="butt" fill="none"/>
<rect x="1824.45" y="422.75" width="4.5" height="4.5" fill="#0a0b0a" stroke="none"/>
<rect x="1834.05" y="422.75" width="4.5" height="4.5" fill="#0a0b0a" stroke="none"/>
<rect x="1824.45" y="432.35" width="4.5" height="4.5" fill="#0a0b0a" stroke="none"/>
<rect x="1834.05" y="432.35" width="4.5" height="4.5" fill="#0a0b0a" stroke="none"/>
<rect x="1828.65" y="613.65" width="5.70" height="15.10" fill="#fff" stroke="none"/>
<rect x="1823.95" y="618.35" width="15.10" height="5.70" fill="#fff" stroke="none"/>
<path d="M1826.70 616.40L1836.30 626.00M1836.30 616.40L1826.70 626.00" stroke-width="3.3" stroke-linecap="butt" fill="none"/>
<rect x="1824.45" y="614.15" width="4.5" height="4.5" fill="#0a0b0a" stroke="none"/>
<rect x="1834.05" y="614.15" width="4.5" height="4.5" fill="#0a0b0a" stroke="none"/>
<rect x="1824.45" y="623.75" width="4.5" height="4.5" fill="#0a0b0a" stroke="none"/>
<rect x="1834.05" y="623.75" width="4.5" height="4.5" fill="#0a0b0a" stroke="none"/>
<rect x="1828.65" y="805.15" width="5.70" height="15.10" fill="#fff" stroke="none"/>
<rect x="1823.95" y="809.85" width="15.10" height="5.70" fill="#fff" stroke="none"/>
<path d="M1826.70 807.90L1836.30 817.50M1836.30 807.90L1826.70 817.50" stroke-width="3.3" stroke-linecap="butt" fill="none"/>
<rect x="1824.45" y="805.65" width="4.5" height="4.5" fill="#0a0b0a" stroke="none"/>
<rect x="1834.05" y="805.65" width="4.5" height="4.5" fill="#0a0b0a" stroke="none"/>
<rect x="1824.45" y="815.25" width="4.5" height="4.5" fill="#0a0b0a" stroke="none"/>
<rect x="1834.05" y="815.25" width="4.5" height="4.5" fill="#0a0b0a" stroke="none"/>
<rect x="1828.65" y="996.65" width="5.70" height="15.10" fill="#fff" stroke="none"/>
<rect x="1823.95" y="1001.35" width="15.10" height="5.70" fill="#fff" stroke="none"/>
<path d="M1826.70 999.40L1836.30 1009.00M1836.30 999.40L1826.70 1009.00" stroke-width="3.3" stroke-linecap="butt" fill="none"/>
<rect x="1824.45" y="997.15" width="4.5" height="4.5" fill="#0a0b0a" stroke="none"/>
<rect x="1834.05" y="997.15" width="4.5" height="4.5" fill="#0a0b0a" stroke="none"/>
<rect x="1824.45" y="1006.75" width="4.5" height="4.5" fill="#0a0b0a" stroke="none"/>
<rect x="1834.05" y="1006.75" width="4.5" height="4.5" fill="#0a0b0a" stroke="none"/>
<rect x="1828.65" y="1188.15" width="5.70" height="15.10" fill="#fff" stroke="none"/>
<rect x="1823.95" y="1192.85" width="15.10" height="5.70" fill="#fff" stroke="none"/>
<path d="M1826.70 1190.90L1836.30 1200.50M1836.30 1190.90L1826.70 1200.50" stroke-width="3.3" stroke-linecap="butt" fill="none"/>
<rect x="1824.45" y="1188.65" width="4.5" height="4.5" fill="#0a0b0a" stroke="none"/>
<rect x="1834.05" y="1188.65" width="4.5" height="4.5" fill="#0a0b0a" stroke="none"/>
<rect x="1824.45" y="1198.25" width="4.5" height="4.5" fill="#0a0b0a" stroke="none"/>
<rect x="1834.05" y="1198.25" width="4.5" height="4.5" fill="#0a0b0a" stroke="none"/>
<rect x="1828.65" y="1379.65" width="5.70" height="15.10" fill="#fff" stroke="none"/>
<rect x="1823.95" y="1384.35" width="15.10" height="5.70" fill="#fff" stroke="none"/>
<path d="M1826.70 1382.40L1836.30 1392.00M1836.30 1382.40L1826.70 1392.00" stroke-width="3.3" stroke-linecap="butt" fill="none"/>
<rect x="1824.45" y="1380.15" width="4.5" height="4.5" fill="#0a0b0a" stroke="none"/>
<rect x="1834.05" y="1380.15" width="4.5" height="4.5" fill="#0a0b0a" stroke="none"/>
<rect x="1824.45" y="1389.75" width="4.5" height="4.5" fill="#0a0b0a" stroke="none"/>
<rect x="1834.05" y="1389.75" width="4.5" height="4.5" fill="#0a0b0a" stroke="none"/>
<rect x="1828.65" y="1571.05" width="5.70" height="15.10" fill="#fff" stroke="none"/>
<rect x="1823.95" y="1575.75" width="15.10" height="5.70" fill="#fff" stroke="none"/>
<path d="M1826.70 1573.80L1836.30 1583.40M1836.30 1573.80L1826.70 1583.40" stroke-width="3.3" stroke-linecap="butt" fill="none"/>
<rect x="1824.45" y="1571.55" width="4.5" height="4.5" fill="#0a0b0a" stroke="none"/>
<rect x="1834.05" y="1571.55" width="4.5" height="4.5" fill="#0a0b0a" stroke="none"/>
<rect x="1824.45" y="1581.15" width="4.5" height="4.5" fill="#0a0b0a" stroke="none"/>
<rect x="1834.05" y="1581.15" width="4.5" height="4.5" fill="#0a0b0a" stroke="none"/>
<rect x="1828.65" y="1762.55" width="5.70" height="15.10" fill="#fff" stroke="none"/>
<rect x="1823.95" y="1767.25" width="15.10" height="5.70" fill="#fff" stroke="none"/>
<path d="M1826.70 1765.30L1836.30 1774.90M1836.30 1765.30L1826.70 1774.90" stroke-width="3.3" stroke-linecap="butt" fill="none"/>
<rect x="1824.45" y="1763.05" width="4.5" height="4.5" fill="#0a0b0a" stroke="none"/>
<rect x="1834.05" y="1763.05" width="4.5" height="4.5" fill="#0a0b0a" stroke="none"/>
<rect x="1824.45" y="1772.65" width="4.5" height="4.5" fill="#0a0b0a" stroke="none"/>
<rect x="1834.05" y="1772.65" width="4.5" height="4.5" fill="#0a0b0a" stroke="none"/>
<rect x="2019.85" y="39.25" width="5.70" height="15.10" fill="#fff" stroke="none"/>
<rect x="2015.15" y="43.95" width="15.10" height="5.70" fill="#fff" stroke="none"/>
<path d="M2017.90 42.00L2027.50 51.60M2027.50 42.00L2017.90 51.60" stroke-width="3.3" stroke-linecap="butt" fill="none"/>
<rect x="2015.65" y="39.75" width="4.5" height="4.5" fill="#0a0b0a" stroke="none"/>
<rect x="2025.25" y="39.75" width="4.5" height="4.5" fill="#0a0b0a" stroke="none"/>
<rect x="2015.65" y="49.35" width="4.5" height="4.5" fill="#0a0b0a" stroke="none"/>
<rect x="2025.25" y="49.35" width="4.5" height="4.5" fill="#0a0b0a" stroke="none"/>
<rect x="2019.85" y="230.75" width="5.70" height="15.10" fill="#fff" stroke="none"/>
<rect x="2015.15" y="235.45" width="15.10" height="5.70" fill="#fff" stroke="none"/>
<path d="M2017.90 233.50L2027.50 243.10M2027.50 233.50L2017.90 243.10" stroke-width="3.3" stroke-linecap="butt" fill="none"/>
<rect x="2015.65" y="231.25" width="4.5" height="4.5" fill="#0a0b0a" stroke="none"/>
<rect x="2025.25" y="231.25" width="4.5" height="4.5" fill="#0a0b0a" stroke="none"/>
<rect x="2015.65" y="240.85" width="4.5" height="4.5" fill="#0a0b0a" stroke="none"/>
<rect x="2025.25" y="240.85" width="4.5" height="4.5" fill="#0a0b0a" stroke="none"/>
<rect x="2019.85" y="422.25" width="5.70" height="15.10" fill="#fff" stroke="none"/>
<rect x="2015.15" y="426.95" width="15.10" height="5.70" fill="#fff" stroke="none"/>
<path d="M2017.90 425.00L2027.50 434.60M2027.50 425.00L2017.90 434.60" stroke-width="3.3" stroke-linecap="butt" fill="none"/>
<rect x="2015.65" y="422.75" width="4.5" height="4.5" fill="#0a0b0a" stroke="none"/>
<rect x="2025.25" y="422.75" width="4.5" height="4.5" fill="#0a0b0a" stroke="none"/>
<rect x="2015.65" y="432.35" width="4.5" height="4.5" fill="#0a0b0a" stroke="none"/>
<rect x="2025.25" y="432.35" width="4.5" height="4.5" fill="#0a0b0a" stroke="none"/>
<rect x="2019.85" y="613.65" width="5.70" height="15.10" fill="#fff" stroke="none"/>
<rect x="2015.15" y="618.35" width="15.10" height="5.70" fill="#fff" stroke="none"/>
<path d="M2017.90 616.40L2027.50 626.00M2027.50 616.40L2017.90 626.00" stroke-width="3.3" stroke-linecap="butt" fill="none"/>
<rect x="2015.65" y="614.15" width="4.5" height="4.5" fill="#0a0b0a" stroke="none"/>
<rect x="2025.25" y="614.15" width="4.5" height="4.5" fill="#0a0b0a" stroke="none"/>
<rect x="2015.65" y="623.75" width="4.5" height="4.5" fill="#0a0b0a" stroke="none"/>
<rect x="2025.25" y="623.75" width="4.5" height="4.5" fill="#0a0b0a" stroke="none"/>
<path d="M1230.4 769.3V916.3M1230.4 948.9V977.8M1230.4 1010.4V1159.3M1230.4 1191.9V1220.8M1230.4 1253.4V1402.3M1230.4 1434.9V1463.8M1230.4 1496.4V1645.3M1230.4 1677.9V1706.8M1230.4 1739.4V1887.7" stroke-width="4.6" fill="none" stroke-linecap="round" stroke-linejoin="round" />
<path d="M1230.4 2.3V73.7M1230.4 105.3V134.4M1230.4 166.1V237.7" stroke-width="4.6" fill="none" stroke-linecap="round" stroke-linejoin="round" />
<path d="M1421.3 769.3V916.3M1421.3 948.9V977.8M1421.3 1010.4V1159.3M1421.3 1191.9V1220.8M1421.3 1253.4V1402.3M1421.3 1434.9V1463.8M1421.3 1496.4V1645.3M1421.3 1677.9V1706.8M1421.3 1739.4V1887.7" stroke-width="4.6" fill="none" stroke-linecap="round" stroke-linejoin="round" />
<path d="M1421.3 2.3V73.7M1421.3 105.3V134.4M1421.3 166.1V237.7" stroke-width="4.6" fill="none" stroke-linecap="round" stroke-linejoin="round" />
<path d="M1249.6 1011.3V1040.2M1249.6 1072.8V1221.7M1249.6 1254.3V1283.2M1249.6 1315.8V1464.7M1249.6 1497.3V1526.2M1249.6 1558.8V1707.7M1249.6 1740.3V1769.2M1249.6 1801.8V1887.7" stroke-width="4.6" fill="none" stroke-linecap="round" stroke-linejoin="round" />
<path d="M1249.6 2.3V10.7M1249.6 43.3V72.7" stroke-width="4.6" fill="none" stroke-linecap="round" stroke-linejoin="round" />
<path d="M1403.1 1011.3V1040.2M1403.1 1072.8V1221.7M1403.1 1254.3V1283.2M1403.1 1315.8V1464.7M1403.1 1497.3V1526.2M1403.1 1558.8V1707.7M1403.1 1740.3V1769.2M1403.1 1801.8V1887.7" stroke-width="4.6" fill="none" stroke-linecap="round" stroke-linejoin="round" />
<path d="M1403.1 2.3V10.7M1403.1 43.3V72.7" stroke-width="4.6" fill="none" stroke-linecap="round" stroke-linejoin="round" />
<path d="M1306.3 910.3V987.7M1306.3 1020.3V1049.2M1306.3 1081.8V1230.7M1306.3 1263.3V1292.2M1306.3 1324.8V1473.7M1306.3 1506.3V1535.2M1306.3 1567.8V1716.7M1306.3 1749.3V1778.2M1306.3 1810.8V1887.7" stroke-width="4.6" fill="none" stroke-linecap="round" stroke-linejoin="round" />
<path d="M1306.3 34.3V62.2" stroke-width="4.6" fill="none" stroke-linecap="round" stroke-linejoin="round" />
<path d="M1314.8 910.3V987.7M1314.8 1020.3V1049.2M1314.8 1081.8V1230.7M1314.8 1263.3V1292.2M1314.8 1324.8V1473.7M1314.8 1506.3V1535.2M1314.8 1567.8V1716.7M1314.8 1749.3V1778.2M1314.8 1810.8V1887.7" stroke-width="4.6" fill="none" stroke-linecap="round" stroke-linejoin="round" />
<path d="M1314.8 34.3V62.2" stroke-width="4.6" fill="none" stroke-linecap="round" stroke-linejoin="round" />
<path d="M1337.0 910.3V987.7M1337.0 1020.3V1049.2M1337.0 1081.8V1230.7M1337.0 1263.3V1292.2M1337.0 1324.8V1473.7M1337.0 1506.3V1535.2M1337.0 1567.8V1716.7M1337.0 1749.3V1778.2M1337.0 1810.8V1887.7" stroke-width="4.6" fill="none" stroke-linecap="round" stroke-linejoin="round" />
<path d="M1337.0 34.3V62.2" stroke-width="4.6" fill="none" stroke-linecap="round" stroke-linejoin="round" />
<path d="M1345.6 910.3V987.7M1345.6 1020.3V1049.2M1345.6 1081.8V1230.7M1345.6 1263.3V1292.2M1345.6 1324.8V1473.7M1345.6 1506.3V1535.2M1345.6 1567.8V1716.7M1345.6 1749.3V1778.2M1345.6 1810.8V1887.7" stroke-width="4.6" fill="none" stroke-linecap="round" stroke-linejoin="round" />
<path d="M1345.6 34.3V62.2" stroke-width="4.6" fill="none" stroke-linecap="round" stroke-linejoin="round" />
<line x1="1230.4" y1="1888.7" x2="1421.3" y2="1888.7" stroke-width="4.6" stroke-linecap="round" />
<path d="M1232.7 2.2H1280.2M1308.0 2.2H1344.7M1372.3 2.2H1419.0" stroke-width="4.6" fill="none" stroke-linecap="round" stroke-linejoin="round" />
<path d="M1158.7 2.3V9.3M1158.7 41.0V71.2M1158.7 1715.3V1755.4M1158.7 1788.3V1816.5M1158.7 1849.3V1887.7" stroke-width="4.6" fill="none" stroke-linecap="round" stroke-linejoin="round" />
<path d="M967.9 4.3V87.7M967.9 1754.1V1781.9M967.9 1815.1V1887.7" stroke-width="4.6" fill="none" stroke-linecap="round" stroke-linejoin="round" />
<path d="M1073.0 4.3V87.7M1073.0 1754.1V1781.9M1073.0 1815.1V1887.7" stroke-width="4.6" fill="none" stroke-linecap="round" stroke-linejoin="round" />
<path d="M1139.5 4.3V87.7M1139.5 1754.1V1781.9M1139.5 1815.1V1887.7" stroke-width="4.6" fill="none" stroke-linecap="round" stroke-linejoin="round" />
<path d="M986.3 2.3V87.7M986.3 1742.3V1813.5M986.3 1846.3V1874.5" stroke-width="4.6" fill="none" stroke-linecap="round" stroke-linejoin="round" />
<path d="M1043.2 2.3V87.7M1043.2 1742.3V1813.5M1043.2 1846.3V1874.5" stroke-width="4.6" fill="none" stroke-linecap="round" stroke-linejoin="round" />
<path d="M1051.8 2.3V87.7M1051.8 1742.3V1813.5M1051.8 1846.3V1874.5" stroke-width="4.6" fill="none" stroke-linecap="round" stroke-linejoin="round" />
<path d="M1081.8 2.3V87.7M1081.8 1742.3V1813.5M1081.8 1846.3V1874.5" stroke-width="4.6" fill="none" stroke-linecap="round" stroke-linejoin="round" />
<path d="M968.3 2.2H1016.7M1045.3 2.2H1079.7M1109.3 2.2H1156.7" stroke-width="4.6" fill="none" stroke-linecap="round" stroke-linejoin="round" />
<path d="M970.2 1888.7H1156.7" stroke-width="4.6" fill="none" stroke-linecap="round" stroke-linejoin="round" />
<path d="M1270.8 94.2H1280.2M1308.0 94.2H1344.7M1372.3 94.2H1381.8" stroke-width="4.6" fill="none" stroke-linecap="round" stroke-linejoin="round" />
<path d="M1249.5 115.2V113.2A19 19 0 0 1 1268.5 94.2" stroke-width="4.6" fill="none" stroke-linecap="round" stroke-linejoin="round" />
<path d="M1403.1 115.2V113.2A19 19 0 0 0 1384.1 94.2" stroke-width="4.6" fill="none" stroke-linecap="round" stroke-linejoin="round" />
<path d="M1249.5 105.3V119.2M1249.5 151.9V180.7M1249.5 212.3V213.7" stroke-width="4.6" fill="none" stroke-linecap="round" stroke-linejoin="round" />
<path d="M1403.1 105.3V119.2M1403.1 151.9V180.7M1403.1 212.3V213.7" stroke-width="4.6" fill="none" stroke-linecap="round" stroke-linejoin="round" />
<path d="M1249.5 212V216A19 19 0 0 1 1230.5 235" stroke-width="4.6" fill="none" stroke-linecap="round" stroke-linejoin="round" />
<path d="M1403.1 212V216A19 19 0 0 0 1422.1 235" stroke-width="4.6" fill="none" stroke-linecap="round" stroke-linejoin="round" />
<path d="M1230.5 768A19 19 0 0 1 1249.5 787V793" stroke-width="4.6" fill="none" stroke-linecap="round" stroke-linejoin="round" />
<path d="M1422.1 768A19 19 0 0 0 1403.1 787V793" stroke-width="4.6" fill="none" stroke-linecap="round" stroke-linejoin="round" />
<path d="M1249.5 822.0V851.2M1249.5 883.3V978.4" stroke-width="4.6" fill="none" stroke-linecap="round" stroke-linejoin="round" />
<path d="M1403.1 822.0V851.2M1403.1 883.3V978.4" stroke-width="4.6" fill="none" stroke-linecap="round" stroke-linejoin="round" />
<path d="M1249.5 886V889.4A19 19 0 0 0 1268.5 908.4H1282" stroke-width="4.6" fill="none" stroke-linecap="round" stroke-linejoin="round" />
<path d="M1403.1 886V889.4A19 19 0 0 1 1384.1 908.4H1370.5" stroke-width="4.6" fill="none" stroke-linecap="round" stroke-linejoin="round" />
<path d="M1306.9 908.2H1345.1" stroke-width="4.6" fill="none" stroke-linecap="round" stroke-linejoin="round" />
<rect x="1281.8" y="162.0" width="88.0" height="32.4" rx="16.2" ry="16.2" stroke-width="3.6" fill="none" />
<line x1="1299.3" y1="163.7" x2="1299.3" y2="192.7" stroke-width="3.0" stroke-linecap="butt" />
<line x1="1304.2" y1="162.0" x2="1304.2" y2="194.4" stroke-width="3.0" stroke-linecap="butt" />
<line x1="1307.8" y1="162.0" x2="1307.8" y2="194.4" stroke-width="3.0" stroke-linecap="butt" />
<line x1="1314.0" y1="162.0" x2="1314.0" y2="194.4" stroke-width="3.0" stroke-linecap="butt" />
<line x1="1337.5" y1="162.0" x2="1337.5" y2="194.4" stroke-width="3.0" stroke-linecap="butt" />
<line x1="1343.4" y1="162.0" x2="1343.4" y2="194.4" stroke-width="3.0" stroke-linecap="butt" />
<line x1="1348.7" y1="162.0" x2="1348.7" y2="194.4" stroke-width="3.0" stroke-linecap="butt" />
<line x1="1353.6" y1="163.7" x2="1353.6" y2="192.7" stroke-width="3.0" stroke-linecap="butt" />
<path d="M1270.6 178.2H1274.5M1288.1 178.2H1310.2M1321.9 178.2H1331.5M1344.1 178.2H1366.0M1380.2 178.2H1383.0" stroke-width="3.6" fill="none" stroke-linecap="round" stroke-linejoin="round" />
<path d="M1297.2 150.5V153.9M1297.2 165.0V191.4M1297.2 202.5V205.9" stroke-width="3.6" fill="none" stroke-linecap="round" stroke-linejoin="round" />
<path d="M1354.4 150.5V153.9M1354.4 165.0V191.4M1354.4 202.5V205.9" stroke-width="3.6" fill="none" stroke-linecap="round" stroke-linejoin="round" />
<rect x="1281.8" y="808.4" width="88.0" height="32.4" rx="16.2" ry="16.2" stroke-width="3.6" fill="none" />
<line x1="1299.3" y1="810.1" x2="1299.3" y2="839.1" stroke-width="3.0" stroke-linecap="butt" />
<line x1="1304.2" y1="808.4" x2="1304.2" y2="840.8" stroke-width="3.0" stroke-linecap="butt" />
<line x1="1307.8" y1="808.4" x2="1307.8" y2="840.8" stroke-width="3.0" stroke-linecap="butt" />
<line x1="1314.0" y1="808.4" x2="1314.0" y2="840.8" stroke-width="3.0" stroke-linecap="butt" />
<line x1="1337.5" y1="808.4" x2="1337.5" y2="840.8" stroke-width="3.0" stroke-linecap="butt" />
<line x1="1343.4" y1="808.4" x2="1343.4" y2="840.8" stroke-width="3.0" stroke-linecap="butt" />
<line x1="1348.7" y1="808.4" x2="1348.7" y2="840.8" stroke-width="3.0" stroke-linecap="butt" />
<line x1="1353.6" y1="810.1" x2="1353.6" y2="839.1" stroke-width="3.0" stroke-linecap="butt" />
<path d="M1270.6 824.6H1274.5M1288.1 824.6H1310.2M1321.9 824.6H1331.5M1344.1 824.6H1366.0M1380.2 824.6H1383.0" stroke-width="3.6" fill="none" stroke-linecap="round" stroke-linejoin="round" />
<path d="M1297.2 796.9V800.3M1297.2 811.4V837.8M1297.2 848.9V852.3" stroke-width="3.6" fill="none" stroke-linecap="round" stroke-linejoin="round" />
<path d="M1354.4 796.9V800.3M1354.4 811.4V837.8M1354.4 848.9V852.3" stroke-width="3.6" fill="none" stroke-linecap="round" stroke-linejoin="round" />
<line x1="57.5" y1="89.0" x2="426.0" y2="89.0" stroke-width="4.4" stroke-linecap="round" />
<line x1="57.5" y1="1739.5" x2="426.0" y2="1739.5" stroke-width="4.4" stroke-linecap="round" />
<line x1="82.6" y1="95.0" x2="82.6" y2="1733.0" stroke-width="4.4" stroke-linecap="butt" />
<polygon points="82.6,90.0 70.2,162.5 95.0,162.5" fill="#0a0b0a" stroke="none"/>
<polygon points="82.6,1738.5 70.2,1666.0 95.0,1666.0" fill="#0a0b0a" stroke="none"/>
<line x1="199.5" y1="238.6" x2="412.0" y2="238.6" stroke-width="4.4" stroke-linecap="round" />
<line x1="199.5" y1="766.6" x2="412.0" y2="766.6" stroke-width="4.4" stroke-linecap="round" />
<line x1="199.5" y1="1352.0" x2="412.0" y2="1352.0" stroke-width="4.4" stroke-linecap="round" />
<line x1="224.6" y1="250.0" x2="224.6" y2="1345.0" stroke-width="4.4" stroke-linecap="butt" />
<polygon points="224.6,240.0 212.2,312.6 237.0,312.6" fill="#0a0b0a" stroke="none"/>
<polygon points="224.6,765.5 212.2,692.2 237.0,692.2" fill="#0a0b0a" stroke="none"/>
<polygon points="224.6,767.5 212.2,839.3 237.0,839.3" fill="#0a0b0a" stroke="none"/>
<polygon points="224.6,1351.0 212.2,1278.7 237.0,1278.7" fill="#0a0b0a" stroke="none"/>
<text transform="translate(73.5,904.0) rotate(-90) scale(0.957,1)" font-size="81.7" text-anchor="middle" fill="#0a0b0a" stroke="#fff" stroke-width="1.2">345</text>
<text transform="translate(216.7,506.4) rotate(-90) scale(0.86,1)" font-size="87.2" text-anchor="middle" fill="#0a0b0a" stroke="#fff" stroke-width="1.6">MGB-L</text>
<text transform="translate(216.7,1072.4) rotate(-90) scale(0.845,1)" font-size="87.2" text-anchor="middle" fill="#0a0b0a" stroke="#fff" stroke-width="1.6">MGB-B</text>
<rect x="413.3" y="88.4" width="742.4" height="1650.6" rx="22" ry="22" stroke-width="8.6" fill="#fff" />
<rect x="445.3" y="169.4" width="102.2" height="30.0" rx="15" ry="15" stroke-width="8.8" fill="none" />
<rect x="1020.5" y="169.4" width="101.5" height="30.0" rx="15" ry="15" stroke-width="8.8" fill="none" />
<rect x="445.3" y="1630.0" width="102.2" height="30.0" rx="15" ry="15" stroke-width="8.8" fill="none" />
<rect x="1020.5" y="1630.0" width="101.5" height="30.0" rx="15" ry="15" stroke-width="8.8" fill="none" />
<rect x="413" y="239" width="738" height="530" fill="#fff" stroke="none"/>
<g><path d="M413.3 504.5V251A12 12 0 0 1 425.3 239.3H1142A12 12 0 0 1 1154 251" stroke-width="9.2" fill="none" stroke-linecap="round" stroke-linejoin="round"/>
<path d="M425 253.7H1151" stroke-width="4.4" fill="none" stroke-linecap="butt" stroke-linejoin="round"/>
<path d="M417 263Q418 246.5 433 245" stroke-width="3.6" fill="none" stroke-linecap="round" stroke-linejoin="round"/>
<path d="M427.6 253.7V504.5" stroke-width="4.2" fill="none" stroke-linecap="butt" stroke-linejoin="round"/>
<path d="M413.3 320A13 13 0 0 1 426 306.7H1069A14.5 14.5 0 0 1 1083.5 321V504.5" stroke-width="8.6" fill="none" stroke-linecap="round" stroke-linejoin="round"/>
<path d="M417 321.8H1078" stroke-width="4.2" fill="none" stroke-linecap="butt" stroke-linejoin="round"/>
<path d="M1068.5 311V504.5" stroke-width="4.0" fill="none" stroke-linecap="butt" stroke-linejoin="round"/>
<path d="M1077 305.5Q1081 300 1090 300H1122.5L1139.6 283.3V244" stroke-width="4.0" fill="none" stroke-linecap="round" stroke-linejoin="round"/>
<path d="M1139.6 282.5Q1146 281.5 1150 286.5" stroke-width="3.8" fill="none" stroke-linecap="round" stroke-linejoin="round"/>
<path d="M1149.3 286V504.5" stroke-width="5.0" fill="none" stroke-linecap="butt" stroke-linejoin="round"/>
<path d="M1097 300V313M1123.2 299V313" stroke-width="4.3" fill="none" stroke-linecap="butt" stroke-linejoin="round"/>
<path d="M1126.2 300L1132.7 305L1145.6 293L1139.6 286.8" stroke-width="3.7" fill="none" stroke-linecap="round" stroke-linejoin="round"/>
<path d="M1129.5 313.5L1148 296.5" stroke-width="7.0" fill="none" stroke-linecap="butt" stroke-linejoin="round"/>
<path d="M1086 328Q1086 315 1097 315H1127L1148.5 333" stroke-width="6.2" fill="none" stroke-linecap="round" stroke-linejoin="round"/>
<path d="M1120.6 322.7L1138.2 337.5" stroke-width="3.9" fill="none" stroke-linecap="round" stroke-linejoin="round"/>
<path d="M1138.2 337.5L1143 333" stroke-width="3.6" fill="none" stroke-linecap="round" stroke-linejoin="round"/>
<path d="M1095.6 318L1101.2 349" stroke-width="4.0" fill="none" stroke-linecap="butt" stroke-linejoin="round"/>
<path d="M1108 349.5Q1112 342.7 1120 342.7H1142L1150.5 338" stroke-width="3.9" fill="none" stroke-linecap="round" stroke-linejoin="round"/>
<path d="M1114 347.5H1138" stroke-width="3.4" fill="none" stroke-linecap="butt" stroke-linejoin="round"/>
<path d="M1122 343V350" stroke-width="4.0" fill="none" stroke-linecap="butt" stroke-linejoin="round"/>
<path d="M1088.6 366Q1088.6 354.7 1099 354.7H1151" stroke-width="9.6" fill="none" stroke-linecap="butt" stroke-linejoin="round"/>
<path d="M1090.5 357V504.5" stroke-width="4.0" fill="none" stroke-linecap="butt" stroke-linejoin="round"/>
<path d="M1057 409.3H1090" stroke-width="9.4" fill="none" stroke-linecap="round" stroke-linejoin="round"/>
<path d="M1059 409.3V504.5" stroke-width="8.2" fill="none" stroke-linecap="butt" stroke-linejoin="round"/>
<path d="M1065.4 414V504.5" stroke-width="2.0" fill="none" stroke-linecap="butt" stroke-linejoin="round"/></g>
<g transform="translate(0,1006.4) scale(1,-1)"><path d="M413.3 504.5V251A12 12 0 0 1 425.3 239.3H1142A12 12 0 0 1 1154 251" stroke-width="9.2" fill="none" stroke-linecap="round" stroke-linejoin="round"/>
<path d="M425 253.7H1151" stroke-width="4.4" fill="none" stroke-linecap="butt" stroke-linejoin="round"/>
<path d="M417 263Q418 246.5 433 245" stroke-width="3.6" fill="none" stroke-linecap="round" stroke-linejoin="round"/>
<path d="M427.6 253.7V504.5" stroke-width="4.2" fill="none" stroke-linecap="butt" stroke-linejoin="round"/>
<path d="M413.3 320A13 13 0 0 1 426 306.7H1069A14.5 14.5 0 0 1 1083.5 321V504.5" stroke-width="8.6" fill="none" stroke-linecap="round" stroke-linejoin="round"/>
<path d="M417 321.8H1078" stroke-width="4.2" fill="none" stroke-linecap="butt" stroke-linejoin="round"/>
<path d="M1068.5 311V504.5" stroke-width="4.0" fill="none" stroke-linecap="butt" stroke-linejoin="round"/>
<path d="M1077 305.5Q1081 300 1090 300H1122.5L1139.6 283.3V244" stroke-width="4.0" fill="none" stroke-linecap="round" stroke-linejoin="round"/>
<path d="M1139.6 282.5Q1146 281.5 1150 286.5" stroke-width="3.8" fill="none" stroke-linecap="round" stroke-linejoin="round"/>
<path d="M1149.3 286V504.5" stroke-width="5.0" fill="none" stroke-linecap="butt" stroke-linejoin="round"/>
<path d="M1097 300V313M1123.2 299V313" stroke-width="4.3" fill="none" stroke-linecap="butt" stroke-linejoin="round"/>
<path d="M1126.2 300L1132.7 305L1145.6 293L1139.6 286.8" stroke-width="3.7" fill="none" stroke-linecap="round" stroke-linejoin="round"/>
<path d="M1129.5 313.5L1148 296.5" stroke-width="7.0" fill="none" stroke-linecap="butt" stroke-linejoin="round"/>
<path d="M1086 328Q1086 315 1097 315H1127L1148.5 333" stroke-width="6.2" fill="none" stroke-linecap="round" stroke-linejoin="round"/>
<path d="M1120.6 322.7L1138.2 337.5" stroke-width="3.9" fill="none" stroke-linecap="round" stroke-linejoin="round"/>
<path d="M1138.2 337.5L1143 333" stroke-width="3.6" fill="none" stroke-linecap="round" stroke-linejoin="round"/>
<path d="M1095.6 318L1101.2 349" stroke-width="4.0" fill="none" stroke-linecap="butt" stroke-linejoin="round"/>
<path d="M1108 349.5Q1112 342.7 1120 342.7H1142L1150.5 338" stroke-width="3.9" fill="none" stroke-linecap="round" stroke-linejoin="round"/>
<path d="M1114 347.5H1138" stroke-width="3.4" fill="none" stroke-linecap="butt" stroke-linejoin="round"/>
<path d="M1122 343V350" stroke-width="4.0" fill="none" stroke-linecap="butt" stroke-linejoin="round"/>
<path d="M1088.6 366Q1088.6 354.7 1099 354.7H1151" stroke-width="9.6" fill="none" stroke-linecap="butt" stroke-linejoin="round"/>
<path d="M1090.5 357V504.5" stroke-width="4.0" fill="none" stroke-linecap="butt" stroke-linejoin="round"/>
<path d="M1057 409.3H1090" stroke-width="9.4" fill="none" stroke-linecap="round" stroke-linejoin="round"/>
<path d="M1059 409.3V504.5" stroke-width="8.2" fill="none" stroke-linecap="butt" stroke-linejoin="round"/>
<path d="M1065.4 414V504.5" stroke-width="2.0" fill="none" stroke-linecap="butt" stroke-linejoin="round"/></g>
<path d="M580.3 232.6H698.2M869.3 232.6H987.7" stroke-width="4.6" fill="none" stroke-linecap="round" stroke-linejoin="round" />
<path d="M921.2 457.8H1042.6A6 6 0 0 1 1048.6 463.8V542.6A6 6 0 0 1 1042.6 548.6H921.2A6 6 0 0 1 915.2 542.6V463.8A6 6 0 0 1 921.2 457.8Z M946.8 468.1V538.2H1038V468.1Z" fill="#0a0b0a" fill-rule="evenodd" stroke="none"/>
<circle cx="1028.0" cy="503.0" r="18.8" fill="#0a0b0a" stroke="none"/>
<path d="M1040 489.5L1055 494.2V512.3L1040 516Z" fill="#0a0b0a" stroke="none"/>
<rect x="1046.3" y="500.3" width="2.9" height="5.9" rx="0.8" fill="#fff" stroke="none"/>
<path d="M456 458H489A4 4 0 0 1 493 462V475Q491 477.5 493 480V497Q491 499.5 493 502V519Q491 521.5 493 524V544A4 4 0 0 1 489 548H456A4 4 0 0 1 452 544V524Q454 521.5 452 519V502Q454 499.5 452 497V480Q454 477.5 452 475V462A4 4 0 0 1 456 458Z" fill="#0a0b0a" stroke="none"/>
<circle cx="436.0" cy="264.0" r="19.8" fill="#0a0b0a" stroke="none"/>
<circle cx="436.0" cy="742.6" r="19.8" fill="#0a0b0a" stroke="none"/>
<circle cx="728.4" cy="264.0" r="19.8" fill="#0a0b0a" stroke="none"/>
<circle cx="728.4" cy="742.6" r="19.8" fill="#0a0b0a" stroke="none"/>
<circle cx="1020.5" cy="264.0" r="19.8" fill="#0a0b0a" stroke="none"/>
<circle cx="1020.5" cy="742.6" r="19.8" fill="#0a0b0a" stroke="none"/>
<line x1="1155.7" y1="230.0" x2="1155.7" y2="780.0" stroke-width="8.8" stroke-linecap="butt" />
<line x1="413.3" y1="230.0" x2="413.3" y2="780.0" stroke-width="8.6" stroke-linecap="butt" />
<line x1="1107.7" y1="357.0" x2="1107.7" y2="454.0" stroke-width="4.8" stroke-linecap="butt" />
<line x1="1107.7" y1="549.0" x2="1107.7" y2="649.0" stroke-width="4.8" stroke-linecap="butt" />
<rect x="1089" y="454" width="21.2" height="11.2" fill="#0a0b0a" stroke="none"/>
<rect x="1089" y="537.6" width="21.2" height="11.6" fill="#0a0b0a" stroke="none"/>
<path d="M1089 486.8H1107.9V515.8H1089" stroke-width="4.4" fill="none" stroke-linecap="butt" stroke-linejoin="miter" />
<line x1="1122.5" y1="359.0" x2="1122.5" y2="405.0" stroke-width="4.4" stroke-linecap="round" />
<line x1="1122.5" y1="450.0" x2="1122.5" y2="455.7" stroke-width="4.4" stroke-linecap="round" />
<line x1="1122.5" y1="486.0" x2="1122.5" y2="516.5" stroke-width="4.4" stroke-linecap="round" />
<line x1="1122.5" y1="547.5" x2="1122.5" y2="556.0" stroke-width="4.4" stroke-linecap="round" />
<line x1="1122.5" y1="602.0" x2="1122.5" y2="647.0" stroke-width="4.4" stroke-linecap="round" />
<rect x="1117.6" y="406.3" width="11.4" height="42.8" rx="5.6" ry="5.6" fill="#0a0b0a" stroke="none"/>
<rect x="1117.6" y="556.8" width="11.4" height="43.8" rx="5.6" ry="5.6" fill="#0a0b0a" stroke="none"/>
<line x1="413.3" y1="769.6" x2="1155.7" y2="769.6" stroke-width="14.2" stroke-linecap="butt" />
<path d="M424.8 796V791.8A8 8 0 0 1 433 783.8H1143" stroke-width="4.2" fill="none" stroke-linecap="butt" stroke-linejoin="round" />
<line x1="416.0" y1="783.8" x2="434.0" y2="783.8" stroke-width="4.2" stroke-linecap="butt" />
<line x1="424.8" y1="774.0" x2="424.8" y2="792.0" stroke-width="4.3" stroke-linecap="butt" />
<line x1="424.8" y1="790.0" x2="424.8" y2="1340.0" stroke-width="4.3" stroke-linecap="butt" />
<line x1="1142.8" y1="783.8" x2="1142.8" y2="1342.0" stroke-width="4.2" stroke-linecap="butt" />
<line x1="550.5" y1="783.8" x2="550.5" y2="1180.0" stroke-width="4.3" stroke-linecap="butt" />
<path d="M558.6 783.8C560 850 561.5 900 563.8 960" stroke-width="4.4" fill="none" stroke-linecap="butt" stroke-linejoin="round" />
<line x1="565.1" y1="963.0" x2="565.1" y2="1214.0" stroke-width="9.3" stroke-linecap="round" />
<path d="M566.6 783.8C569 850 574 900 578 959V1334" stroke-width="4.3" fill="none" stroke-linecap="butt" stroke-linejoin="round" />
<line x1="561.0" y1="960.8" x2="579.0" y2="960.8" stroke-width="4.2" stroke-linecap="butt" />
<path d="M417.5 1179.8H536.4C549 1180.5 558 1186 561.5 1196" stroke-width="4.4" fill="none" stroke-linecap="round" stroke-linejoin="round" />
<path d="M426.7 1192.4H535.3C546 1193 554 1196.5 558.2 1203" stroke-width="4.4" fill="none" stroke-linecap="round" stroke-linejoin="round" />
<path d="M535.3 1182V1203M546.2 1191.5L549.8 1183.5" stroke-width="4.2" fill="none" stroke-linecap="round" stroke-linejoin="round" />
<path d="M429.7 1204.1H541.9C550 1204.5 555.4 1209 555.4 1218V1438A15.5 15.5 0 0 1 539.9 1453.5H443.5A15.5 15.5 0 0 1 428 1438V1204.1" stroke-width="8.8" fill="#fff" stroke-linecap="round" stroke-linejoin="round" />
<line x1="565.2" y1="1196.0" x2="565.2" y2="1352.0" stroke-width="7.2" stroke-linecap="butt" />
<line x1="420.0" y1="1339.5" x2="561.0" y2="1339.5" stroke-width="4.2" stroke-linecap="butt" />
<line x1="413.3" y1="1352.4" x2="566.0" y2="1352.4" stroke-width="8.0" stroke-linecap="butt" />
<line x1="431.0" y1="1364.2" x2="552.0" y2="1364.2" stroke-width="3.0" stroke-linecap="butt" />
<circle cx="442.6" cy="1218.8" r="17.2" fill="#0a0b0a" stroke="none"/>
<circle cx="540.8" cy="1218.8" r="17.2" fill="#0a0b0a" stroke="none"/>
<circle cx="442.6" cy="1316.3" r="17.2" fill="#0a0b0a" stroke="none"/>
<circle cx="540.8" cy="1316.3" r="17.2" fill="#0a0b0a" stroke="none"/>
<circle cx="455.9" cy="1405.4" r="28.2" fill="#0a0b0a" stroke="none"/>
<circle cx="455.9" cy="1405.4" r="16.1" fill="#fff" stroke="none"/>
<polygon points="466.8,1411.7 455.9,1418.0 445.0,1411.7 445.0,1399.1 455.9,1392.8 466.8,1399.1" fill="#0a0b0a" stroke="#0a0b0a" stroke-width="1.6" stroke-linejoin="round"/>
<circle cx="455.9" cy="1405.4" r="3.1" fill="#fff" stroke="none"/>
<circle cx="527.5" cy="1405.4" r="28.2" fill="#0a0b0a" stroke="none"/>
<circle cx="527.5" cy="1405.4" r="16.1" fill="#fff" stroke="none"/>
<polygon points="538.4,1411.7 527.5,1418.0 516.6,1411.7 516.6,1399.1 527.5,1392.8 538.4,1399.1" fill="#0a0b0a" stroke="#0a0b0a" stroke-width="1.6" stroke-linejoin="round"/>
<circle cx="527.5" cy="1405.4" r="3.1" fill="#fff" stroke="none"/>
<path d="M566 1333.6H1143" stroke-width="4.4" fill="none" stroke-linecap="butt" stroke-linejoin="round" />
<line x1="577.8" y1="1320.0" x2="577.8" y2="1343.0" stroke-width="4.2" stroke-linecap="butt" />
<path d="M567.5 1341.5H1141L1152 1334.5V1361.3H573A5.5 5.5 0 0 1 567.5 1355.8Z" fill="#0a0b0a" stroke="none"/>
<rect x="450.3" y="894.8" width="33" height="46.4" rx="3.5" ry="3.5" fill="#0a0b0a" stroke="none"/>
<rect x="450.3" y="943.8" width="40.5" height="87.7" rx="3.5" ry="3.5" fill="#0a0b0a" stroke="none"/>
<rect x="450.3" y="1034" width="33" height="46" rx="3.5" ry="3.5" fill="#0a0b0a" stroke="none"/>
<text transform="translate(500.0,909.0) scale(0.82,1)" font-size="14.4" text-anchor="start" fill="#0a0b0a" stroke="none" >Link&#160;&#160;1</text>
<text transform="translate(500.0,930.9) scale(0.82,1)" font-size="14.4" text-anchor="start" fill="#0a0b0a" stroke="none" >Data 1</text>
<text transform="translate(500.0,958.7) scale(0.82,1)" font-size="14.4" text-anchor="start" fill="#0a0b0a" stroke="none" >Link&#160;&#160;2</text>
<text transform="translate(500.0,979.9) scale(0.82,1)" font-size="14.4" text-anchor="start" fill="#0a0b0a" stroke="none" >Data 2</text>
<text transform="translate(500.0,1003.6) scale(0.82,1)" font-size="14.4" text-anchor="start" fill="#0a0b0a" stroke="none" >SF</text>
<text transform="translate(500.0,1025.8) scale(0.82,1)" font-size="14.4" text-anchor="start" fill="#0a0b0a" stroke="none" >BF</text>
<text transform="translate(500.0,1054.7) scale(0.82,1)" font-size="14.4" text-anchor="start" fill="#0a0b0a" stroke="none" >ON</text>
<text transform="translate(500.0,1075.3) scale(0.85,1)" font-size="12.5" text-anchor="start" fill="#0a0b0a" stroke="none" >U<tspan dy="3.5" font-size="14.4">B</tspan></text>
<rect x="638.4" y="793.0" width="131.2" height="61.2" rx="6" ry="6" stroke-width="8.8" fill="#fff" />
<circle cx="703.9" cy="933.3" r="75.9" fill="#0a0b0a" stroke="none"/>
<circle cx="704.6" cy="931.2" r="63.8" fill="#fff" stroke="none"/>
<circle cx="703" cy="930.0" r="58" fill="#0a0b0a" stroke="none"/>
<circle cx="705.5" cy="929.7" r="44.2" fill="#fff" stroke="none"/>
<text transform="translate(706.0,945.5) scale(0.99,1)" font-size="47.2" text-anchor="middle" fill="#0a0b0a" stroke="none" >S90</text>
<rect x="638.4" y="1044.8" width="131.2" height="61.2" rx="6" ry="6" stroke-width="8.8" fill="#fff" />
<circle cx="703.9" cy="1185.1" r="75.9" fill="#0a0b0a" stroke="none"/>
<circle cx="704.6" cy="1183.0" r="63.8" fill="#fff" stroke="none"/>
<circle cx="703" cy="1181.8" r="58" fill="#0a0b0a" stroke="none"/>
<circle cx="705.5" cy="1181.5" r="44.2" fill="#fff" stroke="none"/>
<text transform="translate(706.0,1200.9) scale(0.99,1)" font-size="47.2" text-anchor="middle" fill="#0a0b0a" stroke="none" >S95</text>
<text transform="translate(1016.0,1080.2) scale(0.943,1)" font-size="53.5" text-anchor="middle" fill="#0a0b0a" stroke="none" >S93</text>
<circle cx="1023.5" cy="1172.4" r="76.6" fill="#0a0b0a" stroke="none"/>
<ellipse cx="1023.5" cy="1184" rx="73.5" ry="73.3" fill="#0a0b0a" stroke="none"/>
<circle cx="1025.5" cy="1169.8" r="63.6" fill="#fff" stroke="none"/>
<circle cx="1023.8" cy="1169.5" r="28.8" stroke-width="8.5" fill="none" />
<path d="M982.1 1144.5A48.6 48.6 0 0 1 1011.2 1122.6" stroke-width="11.5" fill="none" stroke-linecap="butt"/>
<circle cx="982.1" cy="1144.5" r="2" fill="#0a0b0a" stroke="none"/>
<path d="M1012.7 1133.4L1006.4 1112.7L1032.9 1122.8Z" fill="#0a0b0a" stroke="#0a0b0a" stroke-width="3" stroke-linejoin="round"/>
<path d="M1062.4 1140.0A48.6 48.6 0 0 1 1070.7 1182.1" stroke-width="11.5" fill="none" stroke-linecap="butt"/>
<circle cx="1062.4" cy="1140.0" r="2" fill="#0a0b0a" stroke="none"/>
<path d="M1060.6 1178.0L1081.7 1182.9L1060.8 1199.5Z" fill="#0a0b0a" stroke="#0a0b0a" stroke-width="3" stroke-linejoin="round"/>
<path d="M1032.2 1217.4A48.6 48.6 0 0 1 987.1 1201.4" stroke-width="11.5" fill="none" stroke-linecap="butt"/>
<circle cx="1032.2" cy="1217.4" r="2" fill="#0a0b0a" stroke="none"/>
<path d="M996.2 1195.3L980.4 1210.0L978.8 1185.0Z" fill="#0a0b0a" stroke="#0a0b0a" stroke-width="3" stroke-linejoin="round"/>
<path d="M593.5 1361H731.3V1372A5 5 0 0 1 726.3 1377.2H598.5A5 5 0 0 1 593.5 1372Z" fill="#0a0b0a" stroke="none"/>
<rect x="637" y="1362" width="50.7" height="6.3" fill="#fff" stroke="none"/>
<rect x="701.6" y="1362" width="21.8" height="6.3" fill="#fff" stroke="none"/>
<rect x="618.3" y="1362" width="5" height="5.5" fill="#fff" stroke="none"/>
<path d="M610.3 1377H714.5V1446.6A3 3 0 0 1 711.5 1449.6H613.3A3 3 0 0 1 610.3 1446.6Z M619.3 1377.2V1436.7H659.6V1377.2Z M664.1 1377.2V1436.7H705.7V1377.2Z" fill="#0a0b0a" fill-rule="evenodd" stroke="none"/>
<path d="M761.3 1361H913.8V1372A5 5 0 0 1 908.8 1377.3H766.3A5 5 0 0 1 761.3 1372Z" fill="#0a0b0a" stroke="none"/>
<rect x="810.4" y="1362" width="54.4" height="6.3" fill="#fff" stroke="none"/>
<rect x="882.9" y="1362" width="22.4" height="6.3" fill="#fff" stroke="none"/>
<rect x="770.5" y="1362" width="4.5" height="5.5" fill="#fff" stroke="none"/>
<path d="M776.3 1377H899.6V1428.7A3 3 0 0 1 896.6 1431.7H779.3A3 3 0 0 1 776.3 1428.7Z M784.8 1377.3V1417.8H835.2V1377.3Z M839.8 1377.3V1417.8H891V1377.3Z" fill="#0a0b0a" fill-rule="evenodd" stroke="none"/>
<path d="M799.7 1431H876.9V1444.8A4 4 0 0 1 872.9 1448.8H803.7A4 4 0 0 1 799.7 1444.8Z M808.3 1432.2V1438H821.7V1432.2Z M831.3 1432.2V1438H845V1432.2Z M853.7 1432.2V1438H868V1432.2Z" fill="#0a0b0a" fill-rule="evenodd" stroke="none"/>
<circle cx="661.9" cy="1467.5" r="12.6" fill="#0a0b0a" stroke="none"/>
<circle cx="661.9" cy="1467.5" r="1.6" fill="#fff" stroke="none"/>
<circle cx="838.8" cy="1466.9" r="12.6" fill="#0a0b0a" stroke="none"/>
<circle cx="838.8" cy="1466.9" r="1.6" fill="#fff" stroke="none"/>
<circle cx="527.7" cy="1548.5" r="12.6" fill="#0a0b0a" stroke="none"/>
<circle cx="527.7" cy="1548.5" r="1.6" fill="#fff" stroke="none"/>
<circle cx="750.6" cy="1645.0" r="13.6" stroke-width="10" fill="none" />
<path d="M945.8 1361V1510.3H1120.8V1361" stroke-width="8.6" fill="none" stroke-linecap="butt" stroke-linejoin="miter" />
<path d="M950 1361H1031V1372A4 4 0 0 1 1027 1376H954A4 4 0 0 1 950 1372Z" fill="#0a0b0a" stroke="none"/>
<path d="M954 1375H1026.9V1405.4A5 5 0 0 1 1021.9000000000001 1410.4H959A5 5 0 0 1 954 1405.4Z M963 1380.5V1398.7H1018.4V1380.5Z" fill="#0a0b0a" fill-rule="evenodd" stroke="none"/>
<path d="M967.2 1409H1014.7V1413A5 5 0 0 1 1009.7 1418H972.2A5 5 0 0 1 967.2 1413Z" fill="#0a0b0a" stroke="none"/>
<path d="M1049.3 1361H1129.3V1372A4 4 0 0 1 1125.3 1376H1053.3A4 4 0 0 1 1049.3 1372Z" fill="#0a0b0a" stroke="none"/>
<path d="M1052 1375H1125.7V1405.4A5 5 0 0 1 1120.7 1410.4H1057A5 5 0 0 1 1052 1405.4Z M1060.6 1380.5V1398.7H1117.6V1380.5Z" fill="#0a0b0a" fill-rule="evenodd" stroke="none"/>
<path d="M1065.3 1409H1112.9V1413A5 5 0 0 1 1107.9 1418H1070.3A5 5 0 0 1 1065.3 1413Z" fill="#0a0b0a" stroke="none"/>
<rect x="981" y="1364.5" width="24" height="4.2" rx="2" fill="#fff" stroke="none"/>
<rect x="1013" y="1364.5" width="9" height="4.2" rx="1" fill="#fff" stroke="none"/>
<rect x="1057" y="1364.5" width="6" height="4.2" rx="1" fill="#fff" stroke="none"/>
<rect x="1080" y="1364.5" width="24" height="4.2" rx="2" fill="#fff" stroke="none"/>
<ellipse cx="980.4" cy="1468.8" rx="17.6" ry="19" fill="#0a0b0a" stroke="none"/>
<ellipse cx="1088.1" cy="1468.8" rx="17.6" ry="19" fill="#0a0b0a" stroke="none"/>
<text transform="translate(606.0,1320.8) scale(0.815,1)" font-size="27.5" text-anchor="start" fill="#0a0b0a" stroke="none" >X1 DC24V</text>
<text transform="translate(787.7,1320.9) scale(0.82,1)" font-size="27.5" text-anchor="start" fill="#0a0b0a" stroke="none" >X2 DC24V</text>
<text transform="translate(942.0,1320.9) scale(0.825,1)" font-size="27.5" text-anchor="start" fill="#0a0b0a" stroke="none" >X3 PN2</text>
<text transform="translate(1058.6,1320.9) scale(0.825,1)" font-size="27.5" text-anchor="start" fill="#0a0b0a" stroke="none" >X4 PN1</text>
<text transform="translate(652.2,1576.6) scale(0.96,1)" font-size="46.5" text-anchor="start" fill="#0a0b0a" stroke="#fff" stroke-width="0.7">X1</text>
<text transform="translate(820.2,1575.5) scale(0.98,1)" font-size="46.5" text-anchor="start" fill="#0a0b0a" stroke="#fff" stroke-width="0.7">X2</text>
<text transform="translate(965.3,1573.8) scale(0.96,1)" font-size="46.5" text-anchor="start" fill="#0a0b0a" stroke="#fff" stroke-width="0.7">X3</text>
<text transform="translate(1074.9,1574.8) scale(0.985,1)" font-size="46.5" text-anchor="start" fill="#0a0b0a" stroke="#fff" stroke-width="0.7">X4</text>
<path d="M1160 322L1179 306.6V252A12 12 0 0 1 1191 240H1788A12 12 0 0 1 1800 252V751A12 12 0 0 1 1788 763H1191A12 12 0 0 1 1179 751V699.8L1160 684Z" fill="#fff" stroke="none"/>
<path d="M1179 306.6V252A12 12 0 0 1 1191 240H1788A12 12 0 0 1 1800 252V751A12 12 0 0 1 1788 763H1191A12 12 0 0 1 1179 751V699.8" stroke-width="7.8" fill="none" stroke-linecap="round" stroke-linejoin="round" />
<path d="M1179 306.6V252A12 12 0 0 1 1191 240H1788A12 12 0 0 1 1800 252V751A12 12 0 0 1 1788 763H1191A12 12 0 0 1 1179 751V699.8" stroke-width="9.6" fill="none" stroke-linecap="butt" stroke-linejoin="round" stroke-dasharray="68.6 30.4 30.4 30.4" stroke-dashoffset="20"/>
<g><path d="M1193.8 244V305.5" stroke-width="4.0" fill="none" stroke-linecap="butt" stroke-linejoin="round" />
<path d="M1184.4 305.4H1330.4M1361.4 305.4H1391.3M1421.7 305.4H1583.6" stroke-width="4.8" fill="none" stroke-linecap="round" stroke-linejoin="round" />
<path d="M1187.1 319.6H1333.6M1364.1 319.6H1394.3M1424.9 319.6H1571.6" stroke-width="4.8" fill="none" stroke-linecap="round" stroke-linejoin="round" />
<path d="M1573 305.2V319.6" stroke-width="4.0" fill="none" stroke-linecap="butt" stroke-linejoin="round" />
<path d="M1176.5 307L1160.4 321.5" stroke-width="4.4" fill="none" stroke-linecap="round" stroke-linejoin="round" />
<path d="M1185.6 321.4L1160.4 346.5" stroke-width="4.4" fill="none" stroke-linecap="round" stroke-linejoin="round" />
<path d="M1179 308L1185.6 321.4" stroke-width="4.0" fill="none" stroke-linecap="round" stroke-linejoin="round" />
<path d="M1182 255.4H1247M1316.1 255.4H1346.7M1376.4 255.4H1481.6" stroke-width="4.6" fill="none" stroke-linecap="butt" stroke-linejoin="round" />
<path d="M1278 254.4L1309.8 258.7" stroke-width="4.6" fill="none" stroke-linecap="butt" stroke-linejoin="round" />
<path d="M1468.6 244V258" stroke-width="4.0" fill="none" stroke-linecap="round" stroke-linejoin="round" />
<path d="M1182 262.5Q1215 259 1247 257.2" stroke-width="4.2" fill="none" stroke-linecap="butt" stroke-linejoin="round" />
<path d="M1339.5 261.3Q1368 265.5 1392.7 271.2" stroke-width="4.4" fill="none" stroke-linecap="butt" stroke-linejoin="round" />
<path d="M1427 283.5Q1465 295 1499 305.2" stroke-width="4.4" fill="none" stroke-linecap="butt" stroke-linejoin="round" />
<path d="M1501.7 269.8L1528.6 284.4" stroke-width="4.8" fill="none" stroke-linecap="butt" stroke-linejoin="round" />
<circle cx="1407.5" cy="278.8" r="18.2" fill="#0a0b0a" stroke="none"/>
<rect x="1418" y="266.9" width="12.4" height="23.8" rx="3.5" fill="#0a0b0a" stroke="none"/>
<circle cx="1382.8" cy="278.8" r="2.8" fill="#0a0b0a" stroke="none"/>
<circle cx="1407.5" cy="303.8" r="2.9" fill="#0a0b0a" stroke="none"/>
<path d="M1585.4 243V304" stroke-width="4.0" fill="none" stroke-linecap="butt" stroke-linejoin="round" />
<path d="M1512 254.2H1541.6M1573 254.2H1641.5M1671.8 254.2H1702.2M1732.6 254.2H1782A6.2 6.2 0 0 1 1788.2 260.4V307.5M1788.2 338.7V368.2M1788.2 399.5V454.2" stroke-width="4.8" fill="none" stroke-linecap="butt" stroke-linejoin="round" />
<path d="M1584.8 304.5A197.5 197.5 0 0 1 1652.9 321.8" stroke-width="4.8" fill="none" stroke-linecap="round" stroke-linejoin="round" />
<path d="M1680.6 337.2A197.5 197.5 0 0 1 1704.9 356.4" stroke-width="4.8" fill="none" stroke-linecap="round" stroke-linejoin="round" />
<path d="M1725.4 378.3A197.5 197.5 0 0 1 1762.4 452.7" stroke-width="4.8" fill="none" stroke-linecap="round" stroke-linejoin="round" />
<circle cx="1712.1" cy="363.3" r="2.5" fill="#0a0b0a" stroke="none"/>
<path d="M1572.9 318.5A183 183 0 0 1 1641.9 332.8" stroke-width="4.8" fill="none" stroke-linecap="round" stroke-linejoin="round" />
<path d="M1670.4 347.8A183 183 0 0 1 1694.4 366.4" stroke-width="4.8" fill="none" stroke-linecap="round" stroke-linejoin="round" />
<path d="M1715.0 388.6A183 183 0 0 1 1747.3 452.6" stroke-width="4.8" fill="none" stroke-linecap="round" stroke-linejoin="round" /></g>
<g transform="translate(0,1003.0) scale(1,-1)"><path d="M1193.8 244V305.5" stroke-width="4.0" fill="none" stroke-linecap="butt" stroke-linejoin="round" />
<path d="M1184.4 305.4H1330.4M1361.4 305.4H1391.3M1421.7 305.4H1583.6" stroke-width="4.8" fill="none" stroke-linecap="round" stroke-linejoin="round" />
<path d="M1187.1 319.6H1333.6M1364.1 319.6H1394.3M1424.9 319.6H1571.6" stroke-width="4.8" fill="none" stroke-linecap="round" stroke-linejoin="round" />
<path d="M1573 305.2V319.6" stroke-width="4.0" fill="none" stroke-linecap="butt" stroke-linejoin="round" />
<path d="M1176.5 307L1160.4 321.5" stroke-width="4.4" fill="none" stroke-linecap="round" stroke-linejoin="round" />
<path d="M1185.6 321.4L1160.4 346.5" stroke-width="4.4" fill="none" stroke-linecap="round" stroke-linejoin="round" />
<path d="M1179 308L1185.6 321.4" stroke-width="4.0" fill="none" stroke-linecap="round" stroke-linejoin="round" />
<path d="M1182 255.4H1247M1316.1 255.4H1346.7M1376.4 255.4H1481.6" stroke-width="4.6" fill="none" stroke-linecap="butt" stroke-linejoin="round" />
<path d="M1278 254.4L1309.8 258.7" stroke-width="4.6" fill="none" stroke-linecap="butt" stroke-linejoin="round" />
<path d="M1468.6 244V258" stroke-width="4.0" fill="none" stroke-linecap="round" stroke-linejoin="round" />
<path d="M1182 262.5Q1215 259 1247 257.2" stroke-width="4.2" fill="none" stroke-linecap="butt" stroke-linejoin="round" />
<path d="M1339.5 261.3Q1368 265.5 1392.7 271.2" stroke-width="4.4" fill="none" stroke-linecap="butt" stroke-linejoin="round" />
<path d="M1427 283.5Q1465 295 1499 305.2" stroke-width="4.4" fill="none" stroke-linecap="butt" stroke-linejoin="round" />
<path d="M1501.7 269.8L1528.6 284.4" stroke-width="4.8" fill="none" stroke-linecap="butt" stroke-linejoin="round" />
<circle cx="1407.5" cy="278.8" r="18.2" fill="#0a0b0a" stroke="none"/>
<rect x="1418" y="266.9" width="12.4" height="23.8" rx="3.5" fill="#0a0b0a" stroke="none"/>
<circle cx="1382.8" cy="278.8" r="2.8" fill="#0a0b0a" stroke="none"/>
<circle cx="1407.5" cy="303.8" r="2.9" fill="#0a0b0a" stroke="none"/>
<path d="M1585.4 243V304" stroke-width="4.0" fill="none" stroke-linecap="butt" stroke-linejoin="round" />
<path d="M1512 254.2H1541.6M1573 254.2H1641.5M1671.8 254.2H1702.2M1732.6 254.2H1782A6.2 6.2 0 0 1 1788.2 260.4V307.5M1788.2 338.7V368.2M1788.2 399.5V454.2" stroke-width="4.8" fill="none" stroke-linecap="butt" stroke-linejoin="round" />
<path d="M1584.8 304.5A197.5 197.5 0 0 1 1652.9 321.8" stroke-width="4.8" fill="none" stroke-linecap="round" stroke-linejoin="round" />
<path d="M1680.6 337.2A197.5 197.5 0 0 1 1704.9 356.4" stroke-width="4.8" fill="none" stroke-linecap="round" stroke-linejoin="round" />
<path d="M1725.4 378.3A197.5 197.5 0 0 1 1762.4 452.7" stroke-width="4.8" fill="none" stroke-linecap="round" stroke-linejoin="round" />
<circle cx="1712.1" cy="363.3" r="2.5" fill="#0a0b0a" stroke="none"/>
<path d="M1572.9 318.5A183 183 0 0 1 1641.9 332.8" stroke-width="4.8" fill="none" stroke-linecap="round" stroke-linejoin="round" />
<path d="M1670.4 347.8A183 183 0 0 1 1694.4 366.4" stroke-width="4.8" fill="none" stroke-linecap="round" stroke-linejoin="round" />
<path d="M1715.0 388.6A183 183 0 0 1 1747.3 452.6" stroke-width="4.8" fill="none" stroke-linecap="round" stroke-linejoin="round" /></g>
<path d="M1169.4 365.3H1188.5L1187.7 572.8H1170.2Z M1175.2 374H1182.6L1182 498.4H1175.8Z" fill="#0a0b0a" fill-rule="evenodd" stroke="none"/>
<path d="M1246.5 457.4A79.6 79.6 0 0 1 1375.6 452.3" stroke-width="4.8" fill="none" stroke-linecap="butt" stroke-linejoin="round" />
<path d="M1375.6 550.3A79.6 79.6 0 0 1 1246.5 545.2" stroke-width="4.8" fill="none" stroke-linecap="butt" stroke-linejoin="round" />
<path d="M1234.8 516.9A79.6 79.6 0 0 1 1234.7 486.4" stroke-width="4.8" fill="none" stroke-linecap="butt" stroke-linejoin="round" />
<path d="M1268.8 459.4A60.8 60.8 0 0 1 1348.6 452.1" stroke-width="4.8" fill="none" stroke-linecap="butt" stroke-linejoin="round" />
<path d="M1348.6 550.5A60.8 60.8 0 0 1 1268.8 543.2" stroke-width="4.8" fill="none" stroke-linecap="butt" stroke-linejoin="round" />
<path d="M1254.0 516.5A60.8 60.8 0 0 1 1254.0 486.1" stroke-width="4.8" fill="none" stroke-linecap="butt" stroke-linejoin="round" />
<path d="M1273.6 463.3A54.7 54.7 0 0 1 1307.2 446.9" stroke-width="4.8" fill="none" stroke-linecap="butt" stroke-linejoin="round" />
<path d="M1307.2 555.7A54.7 54.7 0 0 1 1273.6 539.3" stroke-width="4.8" fill="none" stroke-linecap="butt" stroke-linejoin="round" />
<path d="M1260.5 516.8A54.7 54.7 0 0 1 1261.0 483.9" stroke-width="4.8" fill="none" stroke-linecap="butt" stroke-linejoin="round" />
<path d="M1330 447.3L1342.5 452.2H1330Z M1330 555.3L1342.5 550.4H1330Z" fill="#0a0b0a" stroke="none"/>
<path d="M1313.5 453.3H1889.7A48.2 48.2 0 0 1 1889.7 549.7H1313.5A48.2 48.2 0 0 1 1313.5 453.3Z" fill="#fff" stroke="none"/>
<path d="M1314.3 453.5H1385.2M1391.7 453.5H1543.1M1575.4 453.5H1603.6M1635.9 453.5H1801.6M1826.4 453.5H1854.6" stroke-width="4.8" fill="none" stroke-linecap="round" stroke-linejoin="round" />
<path d="M1314.3 549.6H1385.2M1391.7 549.6H1543.1M1575.4 549.6H1603.6M1635.9 549.6H1801.6M1826.4 549.6H1854.6" stroke-width="4.8" fill="none" stroke-linecap="round" stroke-linejoin="round" />
<path d="M1265.3 502.3A48.2 48.2 0 0 1 1313.5 453.3" stroke-width="4.8" fill="none" stroke-linecap="round" stroke-linejoin="round" />
<path d="M1302.2 548.3A48.2 48.2 0 0 1 1275.5 531.2" stroke-width="4.8" fill="none" stroke-linecap="round" stroke-linejoin="round" />
<circle cx="1886.9" cy="453.2" r="2.6" fill="#0a0b0a" stroke="none"/>
<path d="M1900.8 454.6A48.2 48.2 0 0 1 1927.0 471.0" stroke-width="4.8" fill="none" stroke-linecap="round" stroke-linejoin="round" />
<path d="M1937.9 499.8A48.2 48.2 0 0 1 1885.0 549.5" stroke-width="4.8" fill="none" stroke-linecap="round" stroke-linejoin="round" />
<line x1="1928.8" y1="1192.0" x2="1927.6" y2="1199.5" stroke-width="5.2" stroke-linecap="butt" />
</svg>
</body></html>
